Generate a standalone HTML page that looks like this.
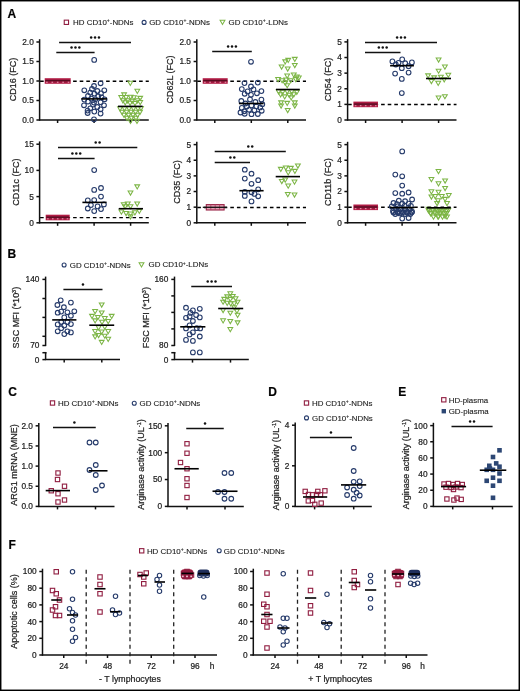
<!DOCTYPE html>
<html><head><meta charset="utf-8"><style>
html,body{margin:0;padding:0;background:#fff;}
svg{display:block;font-family:"Liberation Sans",sans-serif;}
text{stroke:#222;stroke-width:0.22px;}
text.leg{stroke-width:0.12px;}
svg{will-change:transform;}
</style></head><body>
<svg width="520" height="691" viewBox="0 0 520 691">
<rect width="520" height="691" fill="#fff"/>
<rect x="0.7" y="0.7" width="518.6" height="689.6" fill="none" stroke="#000" stroke-width="1.5"/>
<text x="7.6" y="17.5" font-size="12" text-anchor="start" font-weight="700" fill="#000">A</text>
<text x="7.6" y="257.5" font-size="12" text-anchor="start" font-weight="700" fill="#000">B</text>
<text x="8.3" y="395.5" font-size="12" text-anchor="start" font-weight="700" fill="#000">C</text>
<text x="268.3" y="395.5" font-size="12" text-anchor="start" font-weight="700" fill="#000">D</text>
<text x="398.3" y="395.5" font-size="12" text-anchor="start" font-weight="700" fill="#000">E</text>
<text x="8.5" y="549" font-size="12" text-anchor="start" font-weight="700" fill="#000">F</text>
<rect x="64.25" y="20.15" width="4.3" height="4.3" fill="none" stroke="#901d40" stroke-width="1.1"/>
<text x="73.1" y="25.1" font-size="7.9" text-anchor="start" font-weight="400" fill="#222" class="leg">HD CD10<tspan font-size="5" dy="-2.8">+</tspan><tspan dy="2.8">-</tspan>NDNs</text>
<circle cx="144.1" cy="22.4" r="2.0" fill="none" stroke="#263b6b" stroke-width="1.1"/>
<text x="149.2" y="25.2" font-size="7.9" text-anchor="start" font-weight="400" fill="#222" class="leg">GD CD10<tspan font-size="5" dy="-2.8">+</tspan><tspan dy="2.8">-</tspan>NDNs</text>
<polygon points="220.1,20.27 224.9,20.27 222.5,24.4" fill="none" stroke="#7cb545" stroke-width="1.05" stroke-linejoin="miter"/>
<text x="228.5" y="24.8" font-size="7.9" text-anchor="start" font-weight="400" fill="#222" class="leg">GD CD10<tspan font-size="5" dy="-2.8">+</tspan><tspan dy="2.8">-</tspan>LDNs</text>
<circle cx="64.1" cy="265" r="2.0" fill="none" stroke="#263b6b" stroke-width="1.1"/>
<text x="69.8" y="267.8" font-size="7.9" text-anchor="start" font-weight="400" fill="#222" class="leg">GD CD10<tspan font-size="5" dy="-2.8">+</tspan><tspan dy="2.8">-</tspan>NDNs</text>
<polygon points="139.1,262.77 143.9,262.77 141.5,266.9" fill="none" stroke="#7cb545" stroke-width="1.05" stroke-linejoin="miter"/>
<text x="148.6" y="267.3" font-size="7.9" text-anchor="start" font-weight="400" fill="#222" class="leg">GD CD10<tspan font-size="5" dy="-2.8">+</tspan><tspan dy="2.8">-</tspan>LDNs</text>
<rect x="50.35" y="400.85" width="4.3" height="4.3" fill="none" stroke="#901d40" stroke-width="1.1"/>
<text x="58" y="405.8" font-size="7.9" text-anchor="start" font-weight="400" fill="#222" class="leg">HD CD10<tspan font-size="5" dy="-2.8">+</tspan><tspan dy="2.8">-</tspan>NDNs</text>
<circle cx="134.25" cy="403.2" r="2.0" fill="none" stroke="#263b6b" stroke-width="1.1"/>
<text x="139.5" y="406" font-size="7.9" text-anchor="start" font-weight="400" fill="#222" class="leg">GD CD10<tspan font-size="5" dy="-2.8">+</tspan><tspan dy="2.8">-</tspan>NDNs</text>
<rect x="304.35" y="400.85" width="4.3" height="4.3" fill="none" stroke="#901d40" stroke-width="1.1"/>
<text x="312" y="405.8" font-size="7.9" text-anchor="start" font-weight="400" fill="#222" class="leg">HD CD10<tspan font-size="5" dy="-2.8">+</tspan><tspan dy="2.8">-</tspan>NDNs</text>
<circle cx="306.5" cy="417.9" r="2.0" fill="none" stroke="#263b6b" stroke-width="1.1"/>
<text x="312" y="420.7" font-size="7.9" text-anchor="start" font-weight="400" fill="#222" class="leg">GD CD10<tspan font-size="5" dy="-2.8">+</tspan><tspan dy="2.8">-</tspan>NDNs</text>
<rect x="441.65" y="397.65" width="4.3" height="4.3" fill="none" stroke="#901d40" stroke-width="1.1"/>
<text x="448.7" y="402.6" font-size="7.9" text-anchor="start" font-weight="400" fill="#222" class="leg">HD-plasma</text>
<rect x="441.6" y="409" width="4.4" height="4.4" fill="#2d4774"/>
<text x="448.7" y="414" font-size="7.9" text-anchor="start" font-weight="400" fill="#222" class="leg">GD-plasma</text>
<rect x="139.55" y="548.65" width="4.3" height="4.3" fill="none" stroke="#901d40" stroke-width="1.1"/>
<text x="146.9" y="553.6" font-size="7.9" text-anchor="start" font-weight="400" fill="#222" class="leg">HD CD10<tspan font-size="5" dy="-2.8">+</tspan><tspan dy="2.8">-</tspan>NDNs</text>
<circle cx="219.2" cy="550.8" r="2.0" fill="none" stroke="#263b6b" stroke-width="1.1"/>
<text x="223.8" y="553.6" font-size="7.9" text-anchor="start" font-weight="400" fill="#222" class="leg">GD CD10<tspan font-size="5" dy="-2.8">+</tspan><tspan dy="2.8">-</tspan>NDNs</text>
<line x1="39.6" y1="39.2" x2="39.6" y2="120.6" stroke="#111" stroke-width="1.5"/>
<line x1="36.4" y1="120" x2="39.6" y2="120" stroke="#111" stroke-width="1.5"/>
<text x="33.8" y="122.9" font-size="8.3" text-anchor="end" font-weight="400" fill="#222">0.0</text>
<line x1="36.4" y1="100.5" x2="39.6" y2="100.5" stroke="#111" stroke-width="1.5"/>
<text x="33.8" y="103.4" font-size="8.3" text-anchor="end" font-weight="400" fill="#222">0.5</text>
<line x1="36.4" y1="81" x2="39.6" y2="81" stroke="#111" stroke-width="1.5"/>
<text x="33.8" y="83.9" font-size="8.3" text-anchor="end" font-weight="400" fill="#222">1.0</text>
<line x1="36.4" y1="61.5" x2="39.6" y2="61.5" stroke="#111" stroke-width="1.5"/>
<text x="33.8" y="64.4" font-size="8.3" text-anchor="end" font-weight="400" fill="#222">1.5</text>
<line x1="36.4" y1="42" x2="39.6" y2="42" stroke="#111" stroke-width="1.5"/>
<text x="33.8" y="44.9" font-size="8.3" text-anchor="end" font-weight="400" fill="#222">2.0</text>
<line x1="39" y1="120" x2="148.8" y2="120" stroke="#111" stroke-width="1.5"/>
<line x1="57.6" y1="120" x2="57.6" y2="123" stroke="#111" stroke-width="1.5"/>
<line x1="94.1" y1="120" x2="94.1" y2="123" stroke="#111" stroke-width="1.5"/>
<line x1="130.6" y1="120" x2="130.6" y2="123" stroke="#111" stroke-width="1.5"/>
<text x="16.1" y="79.5" font-size="9" text-anchor="middle" font-weight="400" fill="#222" transform="rotate(-90 16.1 79.5)">CD16 (FC)</text>
<line x1="196.8" y1="39.2" x2="196.8" y2="120.6" stroke="#111" stroke-width="1.5"/>
<line x1="193.6" y1="120" x2="196.8" y2="120" stroke="#111" stroke-width="1.5"/>
<text x="191" y="122.9" font-size="8.3" text-anchor="end" font-weight="400" fill="#222">0.0</text>
<line x1="193.6" y1="100.5" x2="196.8" y2="100.5" stroke="#111" stroke-width="1.5"/>
<text x="191" y="103.4" font-size="8.3" text-anchor="end" font-weight="400" fill="#222">0.5</text>
<line x1="193.6" y1="81" x2="196.8" y2="81" stroke="#111" stroke-width="1.5"/>
<text x="191" y="83.9" font-size="8.3" text-anchor="end" font-weight="400" fill="#222">1.0</text>
<line x1="193.6" y1="61.5" x2="196.8" y2="61.5" stroke="#111" stroke-width="1.5"/>
<text x="191" y="64.4" font-size="8.3" text-anchor="end" font-weight="400" fill="#222">1.5</text>
<line x1="193.6" y1="42" x2="196.8" y2="42" stroke="#111" stroke-width="1.5"/>
<text x="191" y="44.9" font-size="8.3" text-anchor="end" font-weight="400" fill="#222">2.0</text>
<line x1="196.2" y1="120" x2="306" y2="120" stroke="#111" stroke-width="1.5"/>
<line x1="214.8" y1="120" x2="214.8" y2="123" stroke="#111" stroke-width="1.5"/>
<line x1="251.3" y1="120" x2="251.3" y2="123" stroke="#111" stroke-width="1.5"/>
<line x1="287.8" y1="120" x2="287.8" y2="123" stroke="#111" stroke-width="1.5"/>
<text x="172.9" y="79.5" font-size="9" text-anchor="middle" font-weight="400" fill="#222" transform="rotate(-90 172.9 79.5)">CD62L (FC)</text>
<line x1="347.6" y1="39.1" x2="347.6" y2="120.6" stroke="#111" stroke-width="1.5"/>
<line x1="344.4" y1="120" x2="347.6" y2="120" stroke="#111" stroke-width="1.5"/>
<text x="341.8" y="122.9" font-size="8.3" text-anchor="end" font-weight="400" fill="#222">0</text>
<line x1="344.4" y1="104.38" x2="347.6" y2="104.38" stroke="#111" stroke-width="1.5"/>
<text x="341.8" y="107.28" font-size="8.3" text-anchor="end" font-weight="400" fill="#222">1</text>
<line x1="344.4" y1="88.76" x2="347.6" y2="88.76" stroke="#111" stroke-width="1.5"/>
<text x="341.8" y="91.66" font-size="8.3" text-anchor="end" font-weight="400" fill="#222">2</text>
<line x1="344.4" y1="73.14" x2="347.6" y2="73.14" stroke="#111" stroke-width="1.5"/>
<text x="341.8" y="76.04" font-size="8.3" text-anchor="end" font-weight="400" fill="#222">3</text>
<line x1="344.4" y1="57.52" x2="347.6" y2="57.52" stroke="#111" stroke-width="1.5"/>
<text x="341.8" y="60.42" font-size="8.3" text-anchor="end" font-weight="400" fill="#222">4</text>
<line x1="344.4" y1="41.9" x2="347.6" y2="41.9" stroke="#111" stroke-width="1.5"/>
<text x="341.8" y="44.8" font-size="8.3" text-anchor="end" font-weight="400" fill="#222">5</text>
<line x1="347" y1="120" x2="456.5" y2="120" stroke="#111" stroke-width="1.5"/>
<line x1="365.6" y1="120" x2="365.6" y2="123" stroke="#111" stroke-width="1.5"/>
<line x1="402.1" y1="120" x2="402.1" y2="123" stroke="#111" stroke-width="1.5"/>
<line x1="438.6" y1="120" x2="438.6" y2="123" stroke="#111" stroke-width="1.5"/>
<text x="330.7" y="79.5" font-size="9" text-anchor="middle" font-weight="400" fill="#222" transform="rotate(-90 330.7 79.5)">CD54 (FC)</text>
<line x1="39.6" y1="141.4" x2="39.6" y2="223.4" stroke="#111" stroke-width="1.5"/>
<line x1="36.4" y1="222.8" x2="39.6" y2="222.8" stroke="#111" stroke-width="1.5"/>
<text x="33.8" y="225.7" font-size="8.3" text-anchor="end" font-weight="400" fill="#222">0</text>
<line x1="36.4" y1="196.6" x2="39.6" y2="196.6" stroke="#111" stroke-width="1.5"/>
<text x="33.8" y="199.5" font-size="8.3" text-anchor="end" font-weight="400" fill="#222">5</text>
<line x1="36.4" y1="170.4" x2="39.6" y2="170.4" stroke="#111" stroke-width="1.5"/>
<text x="33.8" y="173.3" font-size="8.3" text-anchor="end" font-weight="400" fill="#222">10</text>
<line x1="36.4" y1="144.2" x2="39.6" y2="144.2" stroke="#111" stroke-width="1.5"/>
<text x="33.8" y="147.1" font-size="8.3" text-anchor="end" font-weight="400" fill="#222">15</text>
<line x1="39" y1="222.8" x2="148.8" y2="222.8" stroke="#111" stroke-width="1.5"/>
<line x1="57.6" y1="222.8" x2="57.6" y2="225.8" stroke="#111" stroke-width="1.5"/>
<line x1="94.1" y1="222.8" x2="94.1" y2="225.8" stroke="#111" stroke-width="1.5"/>
<line x1="130.6" y1="222.8" x2="130.6" y2="225.8" stroke="#111" stroke-width="1.5"/>
<text x="18.7" y="182.2" font-size="9" text-anchor="middle" font-weight="400" fill="#222" transform="rotate(-90 18.7 182.2)">CD11c (FC)</text>
<line x1="196.8" y1="141.8" x2="196.8" y2="223.4" stroke="#111" stroke-width="1.5"/>
<line x1="193.6" y1="222.8" x2="196.8" y2="222.8" stroke="#111" stroke-width="1.5"/>
<text x="191" y="225.7" font-size="8.3" text-anchor="end" font-weight="400" fill="#222">0</text>
<line x1="193.6" y1="207.16" x2="196.8" y2="207.16" stroke="#111" stroke-width="1.5"/>
<text x="191" y="210.06" font-size="8.3" text-anchor="end" font-weight="400" fill="#222">1</text>
<line x1="193.6" y1="191.52" x2="196.8" y2="191.52" stroke="#111" stroke-width="1.5"/>
<text x="191" y="194.42" font-size="8.3" text-anchor="end" font-weight="400" fill="#222">2</text>
<line x1="193.6" y1="175.88" x2="196.8" y2="175.88" stroke="#111" stroke-width="1.5"/>
<text x="191" y="178.78" font-size="8.3" text-anchor="end" font-weight="400" fill="#222">3</text>
<line x1="193.6" y1="160.24" x2="196.8" y2="160.24" stroke="#111" stroke-width="1.5"/>
<text x="191" y="163.14" font-size="8.3" text-anchor="end" font-weight="400" fill="#222">4</text>
<line x1="193.6" y1="144.6" x2="196.8" y2="144.6" stroke="#111" stroke-width="1.5"/>
<text x="191" y="147.5" font-size="8.3" text-anchor="end" font-weight="400" fill="#222">5</text>
<line x1="196.2" y1="222.8" x2="306" y2="222.8" stroke="#111" stroke-width="1.5"/>
<line x1="214.8" y1="222.8" x2="214.8" y2="225.8" stroke="#111" stroke-width="1.5"/>
<line x1="251.3" y1="222.8" x2="251.3" y2="225.8" stroke="#111" stroke-width="1.5"/>
<line x1="287.8" y1="222.8" x2="287.8" y2="225.8" stroke="#111" stroke-width="1.5"/>
<text x="180" y="182.1" font-size="9" text-anchor="middle" font-weight="400" fill="#222" transform="rotate(-90 180 182.1)">CD35 (FC)</text>
<line x1="347.6" y1="141.8" x2="347.6" y2="223.4" stroke="#111" stroke-width="1.5"/>
<line x1="344.4" y1="222.8" x2="347.6" y2="222.8" stroke="#111" stroke-width="1.5"/>
<text x="341.8" y="225.7" font-size="8.3" text-anchor="end" font-weight="400" fill="#222">0</text>
<line x1="344.4" y1="207.16" x2="347.6" y2="207.16" stroke="#111" stroke-width="1.5"/>
<text x="341.8" y="210.06" font-size="8.3" text-anchor="end" font-weight="400" fill="#222">1</text>
<line x1="344.4" y1="191.52" x2="347.6" y2="191.52" stroke="#111" stroke-width="1.5"/>
<text x="341.8" y="194.42" font-size="8.3" text-anchor="end" font-weight="400" fill="#222">2</text>
<line x1="344.4" y1="175.88" x2="347.6" y2="175.88" stroke="#111" stroke-width="1.5"/>
<text x="341.8" y="178.78" font-size="8.3" text-anchor="end" font-weight="400" fill="#222">3</text>
<line x1="344.4" y1="160.24" x2="347.6" y2="160.24" stroke="#111" stroke-width="1.5"/>
<text x="341.8" y="163.14" font-size="8.3" text-anchor="end" font-weight="400" fill="#222">4</text>
<line x1="344.4" y1="144.6" x2="347.6" y2="144.6" stroke="#111" stroke-width="1.5"/>
<text x="341.8" y="147.5" font-size="8.3" text-anchor="end" font-weight="400" fill="#222">5</text>
<line x1="347" y1="222.8" x2="456.5" y2="222.8" stroke="#111" stroke-width="1.5"/>
<line x1="365.6" y1="222.8" x2="365.6" y2="225.8" stroke="#111" stroke-width="1.5"/>
<line x1="402.1" y1="222.8" x2="402.1" y2="225.8" stroke="#111" stroke-width="1.5"/>
<line x1="438.6" y1="222.8" x2="438.6" y2="225.8" stroke="#111" stroke-width="1.5"/>
<text x="330.7" y="182.1" font-size="9" text-anchor="middle" font-weight="400" fill="#222" transform="rotate(-90 330.7 182.1)">CD11b (FC)</text>
<line x1="40.1" y1="81.2" x2="148.8" y2="81.2" stroke="#000" stroke-width="1.45" stroke-dasharray="3.6 3.0"/>
<rect x="44.7" y="78.2" width="26" height="5.6" fill="#b41e47"/>
<rect x="45.7" y="79.4" width="24" height="3.2" fill="#9a1a3e"/>
<line x1="45.2" y1="80.7" x2="70.2" y2="80.7" stroke="#4a0a1c" stroke-width="1.1"/>
<rect x="46.1" y="81.7" width="1.6" height="1.2" fill="#e08aa2"/>
<rect x="51.5" y="81.7" width="1.6" height="1.2" fill="#e08aa2"/>
<rect x="56.9" y="81.7" width="1.6" height="1.2" fill="#e08aa2"/>
<rect x="62.3" y="81.7" width="1.6" height="1.2" fill="#e08aa2"/>
<rect x="67.7" y="81.7" width="1.6" height="1.2" fill="#e08aa2"/>
<circle cx="100.6" cy="83.3" r="2.35" fill="none" stroke="#263b6b" stroke-width="1.1"/>
<circle cx="94" cy="86" r="2.35" fill="none" stroke="#263b6b" stroke-width="1.1"/>
<circle cx="84.3" cy="90.3" r="2.35" fill="none" stroke="#263b6b" stroke-width="1.1"/>
<circle cx="104.3" cy="90.3" r="2.35" fill="none" stroke="#263b6b" stroke-width="1.1"/>
<circle cx="92" cy="89" r="2.35" fill="none" stroke="#263b6b" stroke-width="1.1"/>
<circle cx="97.3" cy="91" r="2.35" fill="none" stroke="#263b6b" stroke-width="1.1"/>
<circle cx="90.3" cy="92.6" r="2.35" fill="none" stroke="#263b6b" stroke-width="1.1"/>
<circle cx="94.3" cy="93.6" r="2.35" fill="none" stroke="#263b6b" stroke-width="1.1"/>
<circle cx="101" cy="93.3" r="2.35" fill="none" stroke="#263b6b" stroke-width="1.1"/>
<circle cx="88" cy="96" r="2.35" fill="none" stroke="#263b6b" stroke-width="1.1"/>
<circle cx="98.3" cy="96.3" r="2.35" fill="none" stroke="#263b6b" stroke-width="1.1"/>
<circle cx="101.6" cy="97.3" r="2.35" fill="none" stroke="#263b6b" stroke-width="1.1"/>
<circle cx="84.3" cy="99.6" r="2.35" fill="none" stroke="#263b6b" stroke-width="1.1"/>
<circle cx="91.3" cy="98.6" r="2.35" fill="none" stroke="#263b6b" stroke-width="1.1"/>
<circle cx="95.3" cy="99.3" r="2.35" fill="none" stroke="#263b6b" stroke-width="1.1"/>
<circle cx="104.6" cy="99.3" r="2.35" fill="none" stroke="#263b6b" stroke-width="1.1"/>
<circle cx="88" cy="101.6" r="2.35" fill="none" stroke="#263b6b" stroke-width="1.1"/>
<circle cx="94" cy="102.6" r="2.35" fill="none" stroke="#263b6b" stroke-width="1.1"/>
<circle cx="100.6" cy="102.3" r="2.35" fill="none" stroke="#263b6b" stroke-width="1.1"/>
<circle cx="84" cy="105.3" r="2.35" fill="none" stroke="#263b6b" stroke-width="1.1"/>
<circle cx="93" cy="104.6" r="2.35" fill="none" stroke="#263b6b" stroke-width="1.1"/>
<circle cx="104" cy="105.3" r="2.35" fill="none" stroke="#263b6b" stroke-width="1.1"/>
<circle cx="90.3" cy="108.3" r="2.35" fill="none" stroke="#263b6b" stroke-width="1.1"/>
<circle cx="97.3" cy="107" r="2.35" fill="none" stroke="#263b6b" stroke-width="1.1"/>
<circle cx="100.6" cy="109.3" r="2.35" fill="none" stroke="#263b6b" stroke-width="1.1"/>
<circle cx="87.6" cy="110.6" r="2.35" fill="none" stroke="#263b6b" stroke-width="1.1"/>
<circle cx="94.3" cy="111.6" r="2.35" fill="none" stroke="#263b6b" stroke-width="1.1"/>
<circle cx="87.6" cy="113" r="2.35" fill="none" stroke="#263b6b" stroke-width="1.1"/>
<circle cx="100.6" cy="113.6" r="2.35" fill="none" stroke="#263b6b" stroke-width="1.1"/>
<circle cx="94" cy="119.3" r="2.35" fill="none" stroke="#263b6b" stroke-width="1.1"/>
<circle cx="94.2" cy="59.9" r="2.35" fill="none" stroke="#263b6b" stroke-width="1.1"/>
<polygon points="121.7,92.87 126.5,92.87 124.1,97" fill="none" stroke="#7cb545" stroke-width="1.05" stroke-linejoin="miter"/>
<polygon points="118.8,95.57 123.6,95.57 121.2,99.7" fill="none" stroke="#7cb545" stroke-width="1.05" stroke-linejoin="miter"/>
<polygon points="123.7,95.57 128.5,95.57 126.1,99.7" fill="none" stroke="#7cb545" stroke-width="1.05" stroke-linejoin="miter"/>
<polygon points="128.3,95.17 133.1,95.17 130.7,99.3" fill="none" stroke="#7cb545" stroke-width="1.05" stroke-linejoin="miter"/>
<polygon points="131.5,95.77 136.3,95.77 133.9,99.9" fill="none" stroke="#7cb545" stroke-width="1.05" stroke-linejoin="miter"/>
<polygon points="137.8,96.37 142.6,96.37 140.2,100.5" fill="none" stroke="#7cb545" stroke-width="1.05" stroke-linejoin="miter"/>
<polygon points="120.5,98.77 125.3,98.77 122.9,102.9" fill="none" stroke="#7cb545" stroke-width="1.05" stroke-linejoin="miter"/>
<polygon points="125.1,98.77 129.9,98.77 127.5,102.9" fill="none" stroke="#7cb545" stroke-width="1.05" stroke-linejoin="miter"/>
<polygon points="129.8,99.27 134.6,99.27 132.2,103.4" fill="none" stroke="#7cb545" stroke-width="1.05" stroke-linejoin="miter"/>
<polygon points="135.2,98.77 140,98.77 137.6,102.9" fill="none" stroke="#7cb545" stroke-width="1.05" stroke-linejoin="miter"/>
<polygon points="122.8,100.77 127.6,100.77 125.2,104.9" fill="none" stroke="#7cb545" stroke-width="1.05" stroke-linejoin="miter"/>
<polygon points="127.7,101.27 132.5,101.27 130.1,105.4" fill="none" stroke="#7cb545" stroke-width="1.05" stroke-linejoin="miter"/>
<polygon points="132.6,101.57 137.4,101.57 135,105.7" fill="none" stroke="#7cb545" stroke-width="1.05" stroke-linejoin="miter"/>
<polygon points="137.8,100.57 142.6,100.57 140.2,104.7" fill="none" stroke="#7cb545" stroke-width="1.05" stroke-linejoin="miter"/>
<polygon points="117.6,106.77 122.4,106.77 120,110.9" fill="none" stroke="#7cb545" stroke-width="1.05" stroke-linejoin="miter"/>
<polygon points="122.1,106.77 126.9,106.77 124.5,110.9" fill="none" stroke="#7cb545" stroke-width="1.05" stroke-linejoin="miter"/>
<polygon points="126.6,106.77 131.4,106.77 129,110.9" fill="none" stroke="#7cb545" stroke-width="1.05" stroke-linejoin="miter"/>
<polygon points="131.1,106.77 135.9,106.77 133.5,110.9" fill="none" stroke="#7cb545" stroke-width="1.05" stroke-linejoin="miter"/>
<polygon points="135.6,106.77 140.4,106.77 138,110.9" fill="none" stroke="#7cb545" stroke-width="1.05" stroke-linejoin="miter"/>
<polygon points="138.6,106.47 143.4,106.47 141,110.6" fill="none" stroke="#7cb545" stroke-width="1.05" stroke-linejoin="miter"/>
<polygon points="119.6,110.27 124.4,110.27 122,114.4" fill="none" stroke="#7cb545" stroke-width="1.05" stroke-linejoin="miter"/>
<polygon points="124.1,110.27 128.9,110.27 126.5,114.4" fill="none" stroke="#7cb545" stroke-width="1.05" stroke-linejoin="miter"/>
<polygon points="128.6,110.27 133.4,110.27 131,114.4" fill="none" stroke="#7cb545" stroke-width="1.05" stroke-linejoin="miter"/>
<polygon points="133.1,110.27 137.9,110.27 135.5,114.4" fill="none" stroke="#7cb545" stroke-width="1.05" stroke-linejoin="miter"/>
<polygon points="137.6,110.27 142.4,110.27 140,114.4" fill="none" stroke="#7cb545" stroke-width="1.05" stroke-linejoin="miter"/>
<polygon points="121.6,113.27 126.4,113.27 124,117.4" fill="none" stroke="#7cb545" stroke-width="1.05" stroke-linejoin="miter"/>
<polygon points="126.1,113.27 130.9,113.27 128.5,117.4" fill="none" stroke="#7cb545" stroke-width="1.05" stroke-linejoin="miter"/>
<polygon points="130.6,113.27 135.4,113.27 133,117.4" fill="none" stroke="#7cb545" stroke-width="1.05" stroke-linejoin="miter"/>
<polygon points="135.1,113.27 139.9,113.27 137.5,117.4" fill="none" stroke="#7cb545" stroke-width="1.05" stroke-linejoin="miter"/>
<polygon points="124.6,116.27 129.4,116.27 127,120.4" fill="none" stroke="#7cb545" stroke-width="1.05" stroke-linejoin="miter"/>
<polygon points="129.1,116.27 133.9,116.27 131.5,120.4" fill="none" stroke="#7cb545" stroke-width="1.05" stroke-linejoin="miter"/>
<polygon points="133.6,116.27 138.4,116.27 136,120.4" fill="none" stroke="#7cb545" stroke-width="1.05" stroke-linejoin="miter"/>
<polygon points="128.1,119.27 132.9,119.27 130.5,123.4" fill="none" stroke="#7cb545" stroke-width="1.05" stroke-linejoin="miter"/>
<polygon points="134.6,119.27 139.4,119.27 137,123.4" fill="none" stroke="#7cb545" stroke-width="1.05" stroke-linejoin="miter"/>
<polygon points="127.9,81.27 132.7,81.27 130.3,85.4" fill="none" stroke="#7cb545" stroke-width="1.05" stroke-linejoin="miter"/>
<polygon points="134.9,89.27 139.7,89.27 137.3,93.4" fill="none" stroke="#7cb545" stroke-width="1.05" stroke-linejoin="miter"/>
<line x1="81.3" y1="98.9" x2="107" y2="98.9" stroke="#000" stroke-width="1.6"/>
<line x1="118" y1="106.4" x2="142.6" y2="106.4" stroke="#000" stroke-width="1.6"/>
<line x1="59.1" y1="42.5" x2="131" y2="42.5" stroke="#111" stroke-width="1.35"/>
<circle cx="91.15" cy="37.5" r="1.25" fill="#111"/>
<circle cx="95.05" cy="37.5" r="1.25" fill="#111"/>
<circle cx="98.95" cy="37.5" r="1.25" fill="#111"/>
<line x1="56.3" y1="52.5" x2="94.6" y2="52.5" stroke="#111" stroke-width="1.35"/>
<circle cx="71.55" cy="47.5" r="1.25" fill="#111"/>
<circle cx="75.45" cy="47.5" r="1.25" fill="#111"/>
<circle cx="79.35" cy="47.5" r="1.25" fill="#111"/>
<line x1="197.3" y1="81.2" x2="306" y2="81.2" stroke="#000" stroke-width="1.45" stroke-dasharray="3.6 3.0"/>
<rect x="202.7" y="78.2" width="25" height="5.6" fill="#b41e47"/>
<rect x="203.7" y="79.4" width="23" height="3.2" fill="#9a1a3e"/>
<line x1="203.2" y1="80.7" x2="227.2" y2="80.7" stroke="#4a0a1c" stroke-width="1.1"/>
<rect x="204.1" y="81.7" width="1.6" height="1.2" fill="#e08aa2"/>
<rect x="209.25" y="81.7" width="1.6" height="1.2" fill="#e08aa2"/>
<rect x="214.4" y="81.7" width="1.6" height="1.2" fill="#e08aa2"/>
<rect x="219.55" y="81.7" width="1.6" height="1.2" fill="#e08aa2"/>
<rect x="224.7" y="81.7" width="1.6" height="1.2" fill="#e08aa2"/>
<circle cx="251" cy="61.8" r="2.35" fill="none" stroke="#263b6b" stroke-width="1.1"/>
<circle cx="244.5" cy="83.1" r="2.35" fill="none" stroke="#263b6b" stroke-width="1.1"/>
<circle cx="257.8" cy="82.6" r="2.35" fill="none" stroke="#263b6b" stroke-width="1.1"/>
<circle cx="241.8" cy="89.1" r="2.35" fill="none" stroke="#263b6b" stroke-width="1.1"/>
<circle cx="251" cy="86.5" r="2.35" fill="none" stroke="#263b6b" stroke-width="1.1"/>
<circle cx="261.4" cy="91.1" r="2.35" fill="none" stroke="#263b6b" stroke-width="1.1"/>
<circle cx="247.6" cy="91.4" r="2.35" fill="none" stroke="#263b6b" stroke-width="1.1"/>
<circle cx="253.5" cy="89.4" r="2.35" fill="none" stroke="#263b6b" stroke-width="1.1"/>
<circle cx="256.9" cy="93.3" r="2.35" fill="none" stroke="#263b6b" stroke-width="1.1"/>
<circle cx="244.7" cy="93.8" r="2.35" fill="none" stroke="#263b6b" stroke-width="1.1"/>
<circle cx="251" cy="94.8" r="2.35" fill="none" stroke="#263b6b" stroke-width="1.1"/>
<circle cx="241.3" cy="101" r="2.35" fill="none" stroke="#263b6b" stroke-width="1.1"/>
<circle cx="250" cy="99.4" r="2.35" fill="none" stroke="#263b6b" stroke-width="1.1"/>
<circle cx="261.4" cy="99.6" r="2.35" fill="none" stroke="#263b6b" stroke-width="1.1"/>
<circle cx="255.4" cy="102" r="2.35" fill="none" stroke="#263b6b" stroke-width="1.1"/>
<circle cx="245.5" cy="103.5" r="2.35" fill="none" stroke="#263b6b" stroke-width="1.1"/>
<circle cx="241.8" cy="107.9" r="2.35" fill="none" stroke="#263b6b" stroke-width="1.1"/>
<circle cx="246.7" cy="106.4" r="2.35" fill="none" stroke="#263b6b" stroke-width="1.1"/>
<circle cx="251.5" cy="105.4" r="2.35" fill="none" stroke="#263b6b" stroke-width="1.1"/>
<circle cx="256.4" cy="106.4" r="2.35" fill="none" stroke="#263b6b" stroke-width="1.1"/>
<circle cx="260.2" cy="107.4" r="2.35" fill="none" stroke="#263b6b" stroke-width="1.1"/>
<circle cx="244.2" cy="111.3" r="2.35" fill="none" stroke="#263b6b" stroke-width="1.1"/>
<circle cx="249.1" cy="109.8" r="2.35" fill="none" stroke="#263b6b" stroke-width="1.1"/>
<circle cx="254.4" cy="110.3" r="2.35" fill="none" stroke="#263b6b" stroke-width="1.1"/>
<circle cx="261.7" cy="110.8" r="2.35" fill="none" stroke="#263b6b" stroke-width="1.1"/>
<circle cx="244.7" cy="113.8" r="2.35" fill="none" stroke="#263b6b" stroke-width="1.1"/>
<circle cx="251.5" cy="114.2" r="2.35" fill="none" stroke="#263b6b" stroke-width="1.1"/>
<circle cx="257.8" cy="114" r="2.35" fill="none" stroke="#263b6b" stroke-width="1.1"/>
<circle cx="240.5" cy="112.5" r="2.35" fill="none" stroke="#263b6b" stroke-width="1.1"/>
<circle cx="262.3" cy="104.2" r="2.35" fill="none" stroke="#263b6b" stroke-width="1.1"/>
<polygon points="292.4,57.37 297.2,57.37 294.8,61.5" fill="none" stroke="#7cb545" stroke-width="1.05" stroke-linejoin="miter"/>
<polygon points="285.8,58.37 290.6,58.37 288.2,62.5" fill="none" stroke="#7cb545" stroke-width="1.05" stroke-linejoin="miter"/>
<polygon points="282.8,59.87 287.6,59.87 285.2,64" fill="none" stroke="#7cb545" stroke-width="1.05" stroke-linejoin="miter"/>
<polygon points="279.2,64.97 284,64.97 281.6,69.1" fill="none" stroke="#7cb545" stroke-width="1.05" stroke-linejoin="miter"/>
<polygon points="292.4,63.47 297.2,63.47 294.8,67.6" fill="none" stroke="#7cb545" stroke-width="1.05" stroke-linejoin="miter"/>
<polygon points="285.3,66.97 290.1,66.97 287.7,71.1" fill="none" stroke="#7cb545" stroke-width="1.05" stroke-linejoin="miter"/>
<polygon points="284.8,74.07 289.6,74.07 287.2,78.2" fill="none" stroke="#7cb545" stroke-width="1.05" stroke-linejoin="miter"/>
<polygon points="291.4,73.07 296.2,73.07 293.8,77.2" fill="none" stroke="#7cb545" stroke-width="1.05" stroke-linejoin="miter"/>
<polygon points="294.4,75.07 299.2,75.07 296.8,79.2" fill="none" stroke="#7cb545" stroke-width="1.05" stroke-linejoin="miter"/>
<polygon points="275.7,77.57 280.5,77.57 278.1,81.7" fill="none" stroke="#7cb545" stroke-width="1.05" stroke-linejoin="miter"/>
<polygon points="279.7,78.67 284.5,78.67 282.1,82.8" fill="none" stroke="#7cb545" stroke-width="1.05" stroke-linejoin="miter"/>
<polygon points="283.8,78.07 288.6,78.07 286.2,82.2" fill="none" stroke="#7cb545" stroke-width="1.05" stroke-linejoin="miter"/>
<polygon points="288.3,78.67 293.1,78.67 290.7,82.8" fill="none" stroke="#7cb545" stroke-width="1.05" stroke-linejoin="miter"/>
<polygon points="293.4,77.57 298.2,77.57 295.8,81.7" fill="none" stroke="#7cb545" stroke-width="1.05" stroke-linejoin="miter"/>
<polygon points="296.4,76.07 301.2,76.07 298.8,80.2" fill="none" stroke="#7cb545" stroke-width="1.05" stroke-linejoin="miter"/>
<polygon points="282.8,81.17 287.6,81.17 285.2,85.3" fill="none" stroke="#7cb545" stroke-width="1.05" stroke-linejoin="miter"/>
<polygon points="284.8,83.67 289.6,83.67 287.2,87.8" fill="none" stroke="#7cb545" stroke-width="1.05" stroke-linejoin="miter"/>
<polygon points="276.2,89.77 281,89.77 278.6,93.9" fill="none" stroke="#7cb545" stroke-width="1.05" stroke-linejoin="miter"/>
<polygon points="280.2,90.27 285,90.27 282.6,94.4" fill="none" stroke="#7cb545" stroke-width="1.05" stroke-linejoin="miter"/>
<polygon points="284.8,89.77 289.6,89.77 287.2,93.9" fill="none" stroke="#7cb545" stroke-width="1.05" stroke-linejoin="miter"/>
<polygon points="289.3,89.77 294.1,89.77 291.7,93.9" fill="none" stroke="#7cb545" stroke-width="1.05" stroke-linejoin="miter"/>
<polygon points="294.4,90.27 299.2,90.27 296.8,94.4" fill="none" stroke="#7cb545" stroke-width="1.05" stroke-linejoin="miter"/>
<polygon points="278.2,92.77 283,92.77 280.6,96.9" fill="none" stroke="#7cb545" stroke-width="1.05" stroke-linejoin="miter"/>
<polygon points="282.3,94.87 287.1,94.87 284.7,99" fill="none" stroke="#7cb545" stroke-width="1.05" stroke-linejoin="miter"/>
<polygon points="286.8,93.27 291.6,93.27 289.2,97.4" fill="none" stroke="#7cb545" stroke-width="1.05" stroke-linejoin="miter"/>
<polygon points="291.4,92.77 296.2,92.77 293.8,96.9" fill="none" stroke="#7cb545" stroke-width="1.05" stroke-linejoin="miter"/>
<polygon points="288.8,95.87 293.6,95.87 291.2,100" fill="none" stroke="#7cb545" stroke-width="1.05" stroke-linejoin="miter"/>
<polygon points="278.7,100.87 283.5,100.87 281.1,105" fill="none" stroke="#7cb545" stroke-width="1.05" stroke-linejoin="miter"/>
<polygon points="284.8,101.37 289.6,101.37 287.2,105.5" fill="none" stroke="#7cb545" stroke-width="1.05" stroke-linejoin="miter"/>
<polygon points="292.4,100.87 297.2,100.87 294.8,105" fill="none" stroke="#7cb545" stroke-width="1.05" stroke-linejoin="miter"/>
<polygon points="278.7,103.97 283.5,103.97 281.1,108.1" fill="none" stroke="#7cb545" stroke-width="1.05" stroke-linejoin="miter"/>
<polygon points="292.4,103.97 297.2,103.97 294.8,108.1" fill="none" stroke="#7cb545" stroke-width="1.05" stroke-linejoin="miter"/>
<polygon points="285.3,108.47 290.1,108.47 287.7,112.6" fill="none" stroke="#7cb545" stroke-width="1.05" stroke-linejoin="miter"/>
<line x1="238.9" y1="103.5" x2="263.6" y2="103.5" stroke="#000" stroke-width="1.6"/>
<line x1="276" y1="89.5" x2="299.8" y2="89.5" stroke="#000" stroke-width="1.6"/>
<line x1="212.2" y1="51.5" x2="251.8" y2="51.5" stroke="#111" stroke-width="1.35"/>
<circle cx="228.1" cy="46.5" r="1.25" fill="#111"/>
<circle cx="232" cy="46.5" r="1.25" fill="#111"/>
<circle cx="235.9" cy="46.5" r="1.25" fill="#111"/>
<line x1="348.1" y1="104.5" x2="456.5" y2="104.5" stroke="#000" stroke-width="1.45" stroke-dasharray="3.6 3.0"/>
<rect x="353.4" y="101.6" width="24.6" height="5.6" fill="#b41e47"/>
<rect x="354.4" y="102.8" width="22.6" height="3.2" fill="#9a1a3e"/>
<line x1="353.9" y1="104.1" x2="377.5" y2="104.1" stroke="#4a0a1c" stroke-width="1.1"/>
<rect x="354.8" y="105.1" width="1.6" height="1.2" fill="#e08aa2"/>
<rect x="359.85" y="105.1" width="1.6" height="1.2" fill="#e08aa2"/>
<rect x="364.9" y="105.1" width="1.6" height="1.2" fill="#e08aa2"/>
<rect x="369.95" y="105.1" width="1.6" height="1.2" fill="#e08aa2"/>
<rect x="375" y="105.1" width="1.6" height="1.2" fill="#e08aa2"/>
<circle cx="392.4" cy="61.4" r="2.35" fill="none" stroke="#263b6b" stroke-width="1.1"/>
<circle cx="402.2" cy="59.4" r="2.35" fill="none" stroke="#263b6b" stroke-width="1.1"/>
<circle cx="398.5" cy="62.8" r="2.35" fill="none" stroke="#263b6b" stroke-width="1.1"/>
<circle cx="405.2" cy="63.2" r="2.35" fill="none" stroke="#263b6b" stroke-width="1.1"/>
<circle cx="411.9" cy="62.4" r="2.35" fill="none" stroke="#263b6b" stroke-width="1.1"/>
<circle cx="395.8" cy="64.5" r="2.35" fill="none" stroke="#263b6b" stroke-width="1.1"/>
<circle cx="401.8" cy="68.2" r="2.35" fill="none" stroke="#263b6b" stroke-width="1.1"/>
<circle cx="408.6" cy="66.2" r="2.35" fill="none" stroke="#263b6b" stroke-width="1.1"/>
<circle cx="395.1" cy="73.6" r="2.35" fill="none" stroke="#263b6b" stroke-width="1.1"/>
<circle cx="408.6" cy="72.6" r="2.35" fill="none" stroke="#263b6b" stroke-width="1.1"/>
<circle cx="401.8" cy="78.9" r="2.35" fill="none" stroke="#263b6b" stroke-width="1.1"/>
<circle cx="401.8" cy="93.1" r="2.35" fill="none" stroke="#263b6b" stroke-width="1.1"/>
<polygon points="436.2,57.97 441,57.97 438.6,62.1" fill="none" stroke="#7cb545" stroke-width="1.05" stroke-linejoin="miter"/>
<polygon points="442.5,65.07 447.3,65.07 444.9,69.2" fill="none" stroke="#7cb545" stroke-width="1.05" stroke-linejoin="miter"/>
<polygon points="436.2,69.17 441,69.17 438.6,73.3" fill="none" stroke="#7cb545" stroke-width="1.05" stroke-linejoin="miter"/>
<polygon points="425.7,73.87 430.5,73.87 428.1,78" fill="none" stroke="#7cb545" stroke-width="1.05" stroke-linejoin="miter"/>
<polygon points="431.7,75.87 436.5,75.87 434.1,80" fill="none" stroke="#7cb545" stroke-width="1.05" stroke-linejoin="miter"/>
<polygon points="438.5,75.17 443.3,75.17 440.9,79.3" fill="none" stroke="#7cb545" stroke-width="1.05" stroke-linejoin="miter"/>
<polygon points="445.9,73.17 450.7,73.17 448.3,77.3" fill="none" stroke="#7cb545" stroke-width="1.05" stroke-linejoin="miter"/>
<polygon points="429,79.47 433.8,79.47 431.4,83.6" fill="none" stroke="#7cb545" stroke-width="1.05" stroke-linejoin="miter"/>
<polygon points="435.8,81.27 440.6,81.27 438.2,85.4" fill="none" stroke="#7cb545" stroke-width="1.05" stroke-linejoin="miter"/>
<polygon points="441.8,77.87 446.6,77.87 444.2,82" fill="none" stroke="#7cb545" stroke-width="1.05" stroke-linejoin="miter"/>
<polygon points="436.2,96.07 441,96.07 438.6,100.2" fill="none" stroke="#7cb545" stroke-width="1.05" stroke-linejoin="miter"/>
<polygon points="442.5,94.67 447.3,94.67 444.9,98.8" fill="none" stroke="#7cb545" stroke-width="1.05" stroke-linejoin="miter"/>
<line x1="390.1" y1="65.7" x2="413.9" y2="65.7" stroke="#000" stroke-width="1.6"/>
<line x1="426" y1="78.5" x2="451" y2="78.5" stroke="#000" stroke-width="1.6"/>
<line x1="365" y1="42.5" x2="437" y2="42.5" stroke="#111" stroke-width="1.35"/>
<circle cx="397.1" cy="37.5" r="1.25" fill="#111"/>
<circle cx="401" cy="37.5" r="1.25" fill="#111"/>
<circle cx="404.9" cy="37.5" r="1.25" fill="#111"/>
<line x1="365" y1="52.5" x2="400.5" y2="52.5" stroke="#111" stroke-width="1.35"/>
<circle cx="378.85" cy="47.5" r="1.25" fill="#111"/>
<circle cx="382.75" cy="47.5" r="1.25" fill="#111"/>
<circle cx="386.65" cy="47.5" r="1.25" fill="#111"/>
<line x1="40.1" y1="217.6" x2="148.8" y2="217.6" stroke="#000" stroke-width="1.45" stroke-dasharray="3.6 3.0"/>
<rect x="45.7" y="214.7" width="24" height="5.6" fill="#b41e47"/>
<rect x="46.7" y="215.9" width="22" height="3.2" fill="#9a1a3e"/>
<line x1="46.2" y1="217.2" x2="69.2" y2="217.2" stroke="#4a0a1c" stroke-width="1.1"/>
<rect x="47.1" y="218.2" width="1.6" height="1.2" fill="#e08aa2"/>
<rect x="52" y="218.2" width="1.6" height="1.2" fill="#e08aa2"/>
<rect x="56.9" y="218.2" width="1.6" height="1.2" fill="#e08aa2"/>
<rect x="61.8" y="218.2" width="1.6" height="1.2" fill="#e08aa2"/>
<rect x="66.7" y="218.2" width="1.6" height="1.2" fill="#e08aa2"/>
<circle cx="94.2" cy="170.1" r="2.35" fill="none" stroke="#263b6b" stroke-width="1.1"/>
<circle cx="94.2" cy="189.9" r="2.35" fill="none" stroke="#263b6b" stroke-width="1.1"/>
<circle cx="101" cy="188" r="2.35" fill="none" stroke="#263b6b" stroke-width="1.1"/>
<circle cx="101" cy="196.6" r="2.35" fill="none" stroke="#263b6b" stroke-width="1.1"/>
<circle cx="87.8" cy="200.4" r="2.35" fill="none" stroke="#263b6b" stroke-width="1.1"/>
<circle cx="94.2" cy="200.1" r="2.35" fill="none" stroke="#263b6b" stroke-width="1.1"/>
<circle cx="90.9" cy="205.1" r="2.35" fill="none" stroke="#263b6b" stroke-width="1.1"/>
<circle cx="97.6" cy="206.4" r="2.35" fill="none" stroke="#263b6b" stroke-width="1.1"/>
<circle cx="103.9" cy="204.4" r="2.35" fill="none" stroke="#263b6b" stroke-width="1.1"/>
<circle cx="87.8" cy="208.5" r="2.35" fill="none" stroke="#263b6b" stroke-width="1.1"/>
<circle cx="94.2" cy="211.1" r="2.35" fill="none" stroke="#263b6b" stroke-width="1.1"/>
<circle cx="101" cy="209.1" r="2.35" fill="none" stroke="#263b6b" stroke-width="1.1"/>
<polygon points="134.8,184.87 139.6,184.87 137.2,189" fill="none" stroke="#7cb545" stroke-width="1.05" stroke-linejoin="miter"/>
<polygon points="128.1,190.97 132.9,190.97 130.5,195.1" fill="none" stroke="#7cb545" stroke-width="1.05" stroke-linejoin="miter"/>
<polygon points="121.3,202.67 126.1,202.67 123.7,206.8" fill="none" stroke="#7cb545" stroke-width="1.05" stroke-linejoin="miter"/>
<polygon points="125.4,201.97 130.2,201.97 127.8,206.1" fill="none" stroke="#7cb545" stroke-width="1.05" stroke-linejoin="miter"/>
<polygon points="134.8,201.97 139.6,201.97 137.2,206.1" fill="none" stroke="#7cb545" stroke-width="1.05" stroke-linejoin="miter"/>
<polygon points="122.7,204.67 127.5,204.67 125.1,208.8" fill="none" stroke="#7cb545" stroke-width="1.05" stroke-linejoin="miter"/>
<polygon points="128.1,204.67 132.9,204.67 130.5,208.8" fill="none" stroke="#7cb545" stroke-width="1.05" stroke-linejoin="miter"/>
<polygon points="119,210.07 123.8,210.07 121.4,214.2" fill="none" stroke="#7cb545" stroke-width="1.05" stroke-linejoin="miter"/>
<polygon points="123.7,211.47 128.5,211.47 126.1,215.6" fill="none" stroke="#7cb545" stroke-width="1.05" stroke-linejoin="miter"/>
<polygon points="128.1,212.07 132.9,212.07 130.5,216.2" fill="none" stroke="#7cb545" stroke-width="1.05" stroke-linejoin="miter"/>
<polygon points="132.5,210.77 137.3,210.77 134.9,214.9" fill="none" stroke="#7cb545" stroke-width="1.05" stroke-linejoin="miter"/>
<polygon points="136.9,209.37 141.7,209.37 139.3,213.5" fill="none" stroke="#7cb545" stroke-width="1.05" stroke-linejoin="miter"/>
<polygon points="128.1,214.77 132.9,214.77 130.5,218.9" fill="none" stroke="#7cb545" stroke-width="1.05" stroke-linejoin="miter"/>
<line x1="82.4" y1="202.4" x2="106.6" y2="202.4" stroke="#000" stroke-width="1.6"/>
<line x1="118.7" y1="208.7" x2="143" y2="208.7" stroke="#000" stroke-width="1.6"/>
<line x1="58" y1="147.5" x2="137.3" y2="147.5" stroke="#111" stroke-width="1.35"/>
<circle cx="95.7" cy="142.5" r="1.25" fill="#111"/>
<circle cx="99.6" cy="142.5" r="1.25" fill="#111"/>
<line x1="58" y1="158.5" x2="94.6" y2="158.5" stroke="#111" stroke-width="1.35"/>
<circle cx="72.4" cy="153.5" r="1.25" fill="#111"/>
<circle cx="76.3" cy="153.5" r="1.25" fill="#111"/>
<circle cx="80.2" cy="153.5" r="1.25" fill="#111"/>
<line x1="197.3" y1="207.4" x2="306" y2="207.4" stroke="#000" stroke-width="1.45" stroke-dasharray="3.6 3.0"/>
<rect x="206.3" y="204.6" width="17.8" height="5.4" fill="#e4a2b6" stroke="#9a2548" stroke-width="1.1"/>
<line x1="210.8" y1="204.6" x2="210.8" y2="210" stroke="#b04a68" stroke-width="0.9"/>
<line x1="215.2" y1="204.6" x2="215.2" y2="210" stroke="#b04a68" stroke-width="0.9"/>
<line x1="219.6" y1="204.6" x2="219.6" y2="210" stroke="#b04a68" stroke-width="0.9"/>
<line x1="202.8" y1="207.3" x2="227" y2="207.3" stroke="#111" stroke-width="1.3"/>
<circle cx="244.8" cy="169.7" r="2.35" fill="none" stroke="#263b6b" stroke-width="1.1"/>
<circle cx="251.5" cy="173.7" r="2.35" fill="none" stroke="#263b6b" stroke-width="1.1"/>
<circle cx="244.8" cy="178.6" r="2.35" fill="none" stroke="#263b6b" stroke-width="1.1"/>
<circle cx="258.2" cy="180.2" r="2.35" fill="none" stroke="#263b6b" stroke-width="1.1"/>
<circle cx="251.5" cy="183.8" r="2.35" fill="none" stroke="#263b6b" stroke-width="1.1"/>
<circle cx="258.2" cy="189.3" r="2.35" fill="none" stroke="#263b6b" stroke-width="1.1"/>
<circle cx="244.8" cy="191.9" r="2.35" fill="none" stroke="#263b6b" stroke-width="1.1"/>
<circle cx="251.5" cy="192.3" r="2.35" fill="none" stroke="#263b6b" stroke-width="1.1"/>
<circle cx="254.5" cy="193.9" r="2.35" fill="none" stroke="#263b6b" stroke-width="1.1"/>
<circle cx="244.8" cy="195.9" r="2.35" fill="none" stroke="#263b6b" stroke-width="1.1"/>
<circle cx="258.2" cy="196.3" r="2.35" fill="none" stroke="#263b6b" stroke-width="1.1"/>
<circle cx="251.5" cy="201.4" r="2.35" fill="none" stroke="#263b6b" stroke-width="1.1"/>
<polygon points="295.5,163.97 300.3,163.97 297.9,168.1" fill="none" stroke="#7cb545" stroke-width="1.05" stroke-linejoin="miter"/>
<polygon points="278.4,167.37 283.2,167.37 280.8,171.5" fill="none" stroke="#7cb545" stroke-width="1.05" stroke-linejoin="miter"/>
<polygon points="283.4,165.97 288.2,165.97 285.8,170.1" fill="none" stroke="#7cb545" stroke-width="1.05" stroke-linejoin="miter"/>
<polygon points="288.5,166.37 293.3,166.37 290.9,170.5" fill="none" stroke="#7cb545" stroke-width="1.05" stroke-linejoin="miter"/>
<polygon points="292.5,169.37 297.3,169.37 294.9,173.5" fill="none" stroke="#7cb545" stroke-width="1.05" stroke-linejoin="miter"/>
<polygon points="285.8,170.77 290.6,170.77 288.2,174.9" fill="none" stroke="#7cb545" stroke-width="1.05" stroke-linejoin="miter"/>
<polygon points="279.4,179.47 284.2,179.47 281.8,183.6" fill="none" stroke="#7cb545" stroke-width="1.05" stroke-linejoin="miter"/>
<polygon points="282.8,178.07 287.6,178.07 285.2,182.2" fill="none" stroke="#7cb545" stroke-width="1.05" stroke-linejoin="miter"/>
<polygon points="292.1,180.07 296.9,180.07 294.5,184.2" fill="none" stroke="#7cb545" stroke-width="1.05" stroke-linejoin="miter"/>
<polygon points="285.8,184.07 290.6,184.07 288.2,188.2" fill="none" stroke="#7cb545" stroke-width="1.05" stroke-linejoin="miter"/>
<polygon points="285.4,192.57 290.2,192.57 287.8,196.7" fill="none" stroke="#7cb545" stroke-width="1.05" stroke-linejoin="miter"/>
<polygon points="292.1,192.97 296.9,192.97 294.5,197.1" fill="none" stroke="#7cb545" stroke-width="1.05" stroke-linejoin="miter"/>
<line x1="239.4" y1="190.7" x2="263.6" y2="190.7" stroke="#000" stroke-width="1.6"/>
<line x1="275.7" y1="176.6" x2="300" y2="176.6" stroke="#000" stroke-width="1.6"/>
<line x1="214.7" y1="151.5" x2="285.8" y2="151.5" stroke="#111" stroke-width="1.35"/>
<circle cx="248.3" cy="146.5" r="1.25" fill="#111"/>
<circle cx="252.2" cy="146.5" r="1.25" fill="#111"/>
<line x1="214.7" y1="162.5" x2="250" y2="162.5" stroke="#111" stroke-width="1.35"/>
<circle cx="230.4" cy="157.5" r="1.25" fill="#111"/>
<circle cx="234.3" cy="157.5" r="1.25" fill="#111"/>
<line x1="348.1" y1="207.2" x2="456.5" y2="207.2" stroke="#000" stroke-width="1.45" stroke-dasharray="3.6 3.0"/>
<rect x="353.4" y="204.5" width="24.6" height="5.6" fill="#b41e47"/>
<rect x="354.4" y="205.7" width="22.6" height="3.2" fill="#9a1a3e"/>
<line x1="353.9" y1="207" x2="377.5" y2="207" stroke="#4a0a1c" stroke-width="1.1"/>
<rect x="354.8" y="208" width="1.6" height="1.2" fill="#e08aa2"/>
<rect x="359.85" y="208" width="1.6" height="1.2" fill="#e08aa2"/>
<rect x="364.9" y="208" width="1.6" height="1.2" fill="#e08aa2"/>
<rect x="369.95" y="208" width="1.6" height="1.2" fill="#e08aa2"/>
<rect x="375" y="208" width="1.6" height="1.2" fill="#e08aa2"/>
<circle cx="402.2" cy="151.4" r="2.35" fill="none" stroke="#263b6b" stroke-width="1.1"/>
<circle cx="395.3" cy="174.6" r="2.35" fill="none" stroke="#263b6b" stroke-width="1.1"/>
<circle cx="402.2" cy="176.3" r="2.35" fill="none" stroke="#263b6b" stroke-width="1.1"/>
<circle cx="402.2" cy="185.6" r="2.35" fill="none" stroke="#263b6b" stroke-width="1.1"/>
<circle cx="395.3" cy="193.1" r="2.35" fill="none" stroke="#263b6b" stroke-width="1.1"/>
<circle cx="402.2" cy="193.7" r="2.35" fill="none" stroke="#263b6b" stroke-width="1.1"/>
<circle cx="408.6" cy="192.5" r="2.35" fill="none" stroke="#263b6b" stroke-width="1.1"/>
<circle cx="398.8" cy="200.7" r="2.35" fill="none" stroke="#263b6b" stroke-width="1.1"/>
<circle cx="405.1" cy="201.2" r="2.35" fill="none" stroke="#263b6b" stroke-width="1.1"/>
<circle cx="412.1" cy="199.5" r="2.35" fill="none" stroke="#263b6b" stroke-width="1.1"/>
<circle cx="393.5" cy="203" r="2.35" fill="none" stroke="#263b6b" stroke-width="1.1"/>
<circle cx="397" cy="204.1" r="2.35" fill="none" stroke="#263b6b" stroke-width="1.1"/>
<circle cx="402.2" cy="203.6" r="2.35" fill="none" stroke="#263b6b" stroke-width="1.1"/>
<circle cx="408.6" cy="203.6" r="2.35" fill="none" stroke="#263b6b" stroke-width="1.1"/>
<circle cx="391.8" cy="206.4" r="2.35" fill="none" stroke="#263b6b" stroke-width="1.1"/>
<circle cx="397.6" cy="206.4" r="2.35" fill="none" stroke="#263b6b" stroke-width="1.1"/>
<circle cx="404.6" cy="205.9" r="2.35" fill="none" stroke="#263b6b" stroke-width="1.1"/>
<circle cx="410.9" cy="205.9" r="2.35" fill="none" stroke="#263b6b" stroke-width="1.1"/>
<circle cx="393" cy="211.1" r="2.35" fill="none" stroke="#263b6b" stroke-width="1.1"/>
<circle cx="397.6" cy="211.7" r="2.35" fill="none" stroke="#263b6b" stroke-width="1.1"/>
<circle cx="402.2" cy="211.1" r="2.35" fill="none" stroke="#263b6b" stroke-width="1.1"/>
<circle cx="407.4" cy="211.7" r="2.35" fill="none" stroke="#263b6b" stroke-width="1.1"/>
<circle cx="412.1" cy="211.7" r="2.35" fill="none" stroke="#263b6b" stroke-width="1.1"/>
<circle cx="395.3" cy="214" r="2.35" fill="none" stroke="#263b6b" stroke-width="1.1"/>
<circle cx="399.9" cy="213.4" r="2.35" fill="none" stroke="#263b6b" stroke-width="1.1"/>
<circle cx="405.1" cy="214" r="2.35" fill="none" stroke="#263b6b" stroke-width="1.1"/>
<circle cx="410.3" cy="214" r="2.35" fill="none" stroke="#263b6b" stroke-width="1.1"/>
<circle cx="402.2" cy="218.6" r="2.35" fill="none" stroke="#263b6b" stroke-width="1.1"/>
<circle cx="408.6" cy="218" r="2.35" fill="none" stroke="#263b6b" stroke-width="1.1"/>
<circle cx="396" cy="209.5" r="2.35" fill="none" stroke="#263b6b" stroke-width="1.1"/>
<circle cx="400.5" cy="209.5" r="2.35" fill="none" stroke="#263b6b" stroke-width="1.1"/>
<circle cx="405" cy="209.5" r="2.35" fill="none" stroke="#263b6b" stroke-width="1.1"/>
<circle cx="409.5" cy="209.5" r="2.35" fill="none" stroke="#263b6b" stroke-width="1.1"/>
<circle cx="393.5" cy="212.5" r="2.35" fill="none" stroke="#263b6b" stroke-width="1.1"/>
<circle cx="398" cy="212.5" r="2.35" fill="none" stroke="#263b6b" stroke-width="1.1"/>
<circle cx="402.5" cy="212.5" r="2.35" fill="none" stroke="#263b6b" stroke-width="1.1"/>
<circle cx="407" cy="212.5" r="2.35" fill="none" stroke="#263b6b" stroke-width="1.1"/>
<circle cx="411.5" cy="212.5" r="2.35" fill="none" stroke="#263b6b" stroke-width="1.1"/>
<polygon points="436.1,169.57 440.9,169.57 438.5,173.7" fill="none" stroke="#7cb545" stroke-width="1.05" stroke-linejoin="miter"/>
<polygon points="429,177.57 433.8,177.57 431.4,181.7" fill="none" stroke="#7cb545" stroke-width="1.05" stroke-linejoin="miter"/>
<polygon points="442.7,178.97 447.5,178.97 445.1,183.1" fill="none" stroke="#7cb545" stroke-width="1.05" stroke-linejoin="miter"/>
<polygon points="436.1,181.77 440.9,181.77 438.5,185.9" fill="none" stroke="#7cb545" stroke-width="1.05" stroke-linejoin="miter"/>
<polygon points="442.7,186.47 447.5,186.47 445.1,190.6" fill="none" stroke="#7cb545" stroke-width="1.05" stroke-linejoin="miter"/>
<polygon points="429,189.77 433.8,189.77 431.4,193.9" fill="none" stroke="#7cb545" stroke-width="1.05" stroke-linejoin="miter"/>
<polygon points="436.1,190.27 440.9,190.27 438.5,194.4" fill="none" stroke="#7cb545" stroke-width="1.05" stroke-linejoin="miter"/>
<polygon points="429,194.97 433.8,194.97 431.4,199.1" fill="none" stroke="#7cb545" stroke-width="1.05" stroke-linejoin="miter"/>
<polygon points="432.8,194.57 437.6,194.57 435.2,198.7" fill="none" stroke="#7cb545" stroke-width="1.05" stroke-linejoin="miter"/>
<polygon points="439.4,194.57 444.2,194.57 441.8,198.7" fill="none" stroke="#7cb545" stroke-width="1.05" stroke-linejoin="miter"/>
<polygon points="446.4,193.57 451.2,193.57 448.8,197.7" fill="none" stroke="#7cb545" stroke-width="1.05" stroke-linejoin="miter"/>
<polygon points="435.6,198.77 440.4,198.77 438,202.9" fill="none" stroke="#7cb545" stroke-width="1.05" stroke-linejoin="miter"/>
<polygon points="442.7,197.37 447.5,197.37 445.1,201.5" fill="none" stroke="#7cb545" stroke-width="1.05" stroke-linejoin="miter"/>
<polygon points="434.7,201.57 439.5,201.57 437.1,205.7" fill="none" stroke="#7cb545" stroke-width="1.05" stroke-linejoin="miter"/>
<polygon points="444.6,201.57 449.4,201.57 447,205.7" fill="none" stroke="#7cb545" stroke-width="1.05" stroke-linejoin="miter"/>
<polygon points="426.2,207.27 431,207.27 428.6,211.4" fill="none" stroke="#7cb545" stroke-width="1.05" stroke-linejoin="miter"/>
<polygon points="430,208.17 434.8,208.17 432.4,212.3" fill="none" stroke="#7cb545" stroke-width="1.05" stroke-linejoin="miter"/>
<polygon points="433.7,207.67 438.5,207.67 436.1,211.8" fill="none" stroke="#7cb545" stroke-width="1.05" stroke-linejoin="miter"/>
<polygon points="437.5,208.17 442.3,208.17 439.9,212.3" fill="none" stroke="#7cb545" stroke-width="1.05" stroke-linejoin="miter"/>
<polygon points="441.7,207.67 446.5,207.67 444.1,211.8" fill="none" stroke="#7cb545" stroke-width="1.05" stroke-linejoin="miter"/>
<polygon points="446,208.17 450.8,208.17 448.4,212.3" fill="none" stroke="#7cb545" stroke-width="1.05" stroke-linejoin="miter"/>
<polygon points="428.1,211.47 432.9,211.47 430.5,215.6" fill="none" stroke="#7cb545" stroke-width="1.05" stroke-linejoin="miter"/>
<polygon points="432.3,210.97 437.1,210.97 434.7,215.1" fill="none" stroke="#7cb545" stroke-width="1.05" stroke-linejoin="miter"/>
<polygon points="438.4,210.97 443.2,210.97 440.8,215.1" fill="none" stroke="#7cb545" stroke-width="1.05" stroke-linejoin="miter"/>
<polygon points="444.1,211.47 448.9,211.47 446.5,215.6" fill="none" stroke="#7cb545" stroke-width="1.05" stroke-linejoin="miter"/>
<polygon points="436.1,214.77 440.9,214.77 438.5,218.9" fill="none" stroke="#7cb545" stroke-width="1.05" stroke-linejoin="miter"/>
<polygon points="442.7,214.27 447.5,214.27 445.1,218.4" fill="none" stroke="#7cb545" stroke-width="1.05" stroke-linejoin="miter"/>
<polygon points="426.1,208.87 430.9,208.87 428.5,213" fill="none" stroke="#7cb545" stroke-width="1.05" stroke-linejoin="miter"/>
<polygon points="430.6,208.87 435.4,208.87 433,213" fill="none" stroke="#7cb545" stroke-width="1.05" stroke-linejoin="miter"/>
<polygon points="435.1,208.87 439.9,208.87 437.5,213" fill="none" stroke="#7cb545" stroke-width="1.05" stroke-linejoin="miter"/>
<polygon points="439.6,208.87 444.4,208.87 442,213" fill="none" stroke="#7cb545" stroke-width="1.05" stroke-linejoin="miter"/>
<polygon points="444.1,208.87 448.9,208.87 446.5,213" fill="none" stroke="#7cb545" stroke-width="1.05" stroke-linejoin="miter"/>
<polygon points="428.6,211.97 433.4,211.97 431,216.1" fill="none" stroke="#7cb545" stroke-width="1.05" stroke-linejoin="miter"/>
<polygon points="433.1,211.97 437.9,211.97 435.5,216.1" fill="none" stroke="#7cb545" stroke-width="1.05" stroke-linejoin="miter"/>
<polygon points="437.6,211.97 442.4,211.97 440,216.1" fill="none" stroke="#7cb545" stroke-width="1.05" stroke-linejoin="miter"/>
<polygon points="442.1,211.97 446.9,211.97 444.5,216.1" fill="none" stroke="#7cb545" stroke-width="1.05" stroke-linejoin="miter"/>
<polygon points="431.1,215.07 435.9,215.07 433.5,219.2" fill="none" stroke="#7cb545" stroke-width="1.05" stroke-linejoin="miter"/>
<polygon points="435.6,215.07 440.4,215.07 438,219.2" fill="none" stroke="#7cb545" stroke-width="1.05" stroke-linejoin="miter"/>
<polygon points="440.1,215.07 444.9,215.07 442.5,219.2" fill="none" stroke="#7cb545" stroke-width="1.05" stroke-linejoin="miter"/>
<polygon points="444.6,215.07 449.4,215.07 447,219.2" fill="none" stroke="#7cb545" stroke-width="1.05" stroke-linejoin="miter"/>
<line x1="390.3" y1="207.6" x2="414.3" y2="207.6" stroke="#000" stroke-width="1.6"/>
<line x1="426.7" y1="207.8" x2="450.7" y2="207.8" stroke="#000" stroke-width="1.6"/>
<line x1="45.6" y1="276.6" x2="45.6" y2="346.1" stroke="#111" stroke-width="1.5"/>
<line x1="42.4" y1="279.4" x2="45.6" y2="279.4" stroke="#111" stroke-width="1.5"/>
<text x="39.4" y="282.3" font-size="8.3" text-anchor="end" font-weight="400" fill="#222">140</text>
<line x1="42.4" y1="298.5" x2="45.6" y2="298.5" stroke="#111" stroke-width="1.5"/>
<line x1="42.4" y1="317.4" x2="45.6" y2="317.4" stroke="#111" stroke-width="1.5"/>
<line x1="42.4" y1="336.3" x2="45.6" y2="336.3" stroke="#111" stroke-width="1.5"/>
<line x1="42.4" y1="345.5" x2="45.6" y2="345.5" stroke="#111" stroke-width="1.5"/>
<text x="39.4" y="348.4" font-size="8.3" text-anchor="end" font-weight="400" fill="#222">70</text>
<line x1="45.6" y1="352.7" x2="45.6" y2="359.6" stroke="#111" stroke-width="1.5"/>
<line x1="42.4" y1="352.7" x2="46.6" y2="352.7" stroke="#111" stroke-width="1.5"/>
<line x1="42.4" y1="359.6" x2="45.6" y2="359.6" stroke="#111" stroke-width="1.5"/>
<text x="39.4" y="362.5" font-size="8.3" text-anchor="end" font-weight="400" fill="#222">0</text>
<line x1="45" y1="359.6" x2="120" y2="359.6" stroke="#111" stroke-width="1.5"/>
<line x1="64.2" y1="359.6" x2="64.2" y2="362.6" stroke="#111" stroke-width="1.5"/>
<line x1="101.8" y1="359.6" x2="101.8" y2="362.6" stroke="#111" stroke-width="1.5"/>
<text x="18.7" y="317.6" font-size="9" text-anchor="middle" font-weight="400" fill="#222" transform="rotate(-90 18.7 317.6)">SSC MFI (*10<tspan font-size="5.5" dy="-3">3</tspan><tspan dy="3">)</tspan></text>
<circle cx="60.7" cy="300.3" r="2.35" fill="none" stroke="#263b6b" stroke-width="1.1"/>
<circle cx="70.9" cy="302.6" r="2.35" fill="none" stroke="#263b6b" stroke-width="1.1"/>
<circle cx="57.4" cy="305" r="2.35" fill="none" stroke="#263b6b" stroke-width="1.1"/>
<circle cx="63.9" cy="307.2" r="2.35" fill="none" stroke="#263b6b" stroke-width="1.1"/>
<circle cx="57.7" cy="312.7" r="2.35" fill="none" stroke="#263b6b" stroke-width="1.1"/>
<circle cx="61.2" cy="311.6" r="2.35" fill="none" stroke="#263b6b" stroke-width="1.1"/>
<circle cx="67.4" cy="312.3" r="2.35" fill="none" stroke="#263b6b" stroke-width="1.1"/>
<circle cx="74.3" cy="311.3" r="2.35" fill="none" stroke="#263b6b" stroke-width="1.1"/>
<circle cx="70.9" cy="315.8" r="2.35" fill="none" stroke="#263b6b" stroke-width="1.1"/>
<circle cx="64.3" cy="317.4" r="2.35" fill="none" stroke="#263b6b" stroke-width="1.1"/>
<circle cx="57.7" cy="324.4" r="2.35" fill="none" stroke="#263b6b" stroke-width="1.1"/>
<circle cx="61.2" cy="322" r="2.35" fill="none" stroke="#263b6b" stroke-width="1.1"/>
<circle cx="67.4" cy="322" r="2.35" fill="none" stroke="#263b6b" stroke-width="1.1"/>
<circle cx="64.3" cy="325.5" r="2.35" fill="none" stroke="#263b6b" stroke-width="1.1"/>
<circle cx="70.9" cy="324.1" r="2.35" fill="none" stroke="#263b6b" stroke-width="1.1"/>
<circle cx="57.7" cy="331.3" r="2.35" fill="none" stroke="#263b6b" stroke-width="1.1"/>
<circle cx="61.2" cy="328.2" r="2.35" fill="none" stroke="#263b6b" stroke-width="1.1"/>
<circle cx="67.4" cy="331.3" r="2.35" fill="none" stroke="#263b6b" stroke-width="1.1"/>
<circle cx="64.3" cy="334.1" r="2.35" fill="none" stroke="#263b6b" stroke-width="1.1"/>
<circle cx="70.9" cy="332.4" r="2.35" fill="none" stroke="#263b6b" stroke-width="1.1"/>
<polygon points="99.3,302.97 104.1,302.97 101.7,307.1" fill="none" stroke="#7cb545" stroke-width="1.05" stroke-linejoin="miter"/>
<polygon points="92.7,309.57 97.5,309.57 95.1,313.7" fill="none" stroke="#7cb545" stroke-width="1.05" stroke-linejoin="miter"/>
<polygon points="99.3,310.97 104.1,310.97 101.7,315.1" fill="none" stroke="#7cb545" stroke-width="1.05" stroke-linejoin="miter"/>
<polygon points="89.6,314.37 94.4,314.37 92,318.5" fill="none" stroke="#7cb545" stroke-width="1.05" stroke-linejoin="miter"/>
<polygon points="95.5,315.47 100.3,315.47 97.9,319.6" fill="none" stroke="#7cb545" stroke-width="1.05" stroke-linejoin="miter"/>
<polygon points="102.4,316.57 107.2,316.57 104.8,320.7" fill="none" stroke="#7cb545" stroke-width="1.05" stroke-linejoin="miter"/>
<polygon points="109.3,314.37 114.1,314.37 111.7,318.5" fill="none" stroke="#7cb545" stroke-width="1.05" stroke-linejoin="miter"/>
<polygon points="92.7,318.87 97.5,318.87 95.1,323" fill="none" stroke="#7cb545" stroke-width="1.05" stroke-linejoin="miter"/>
<polygon points="99.6,320.27 104.4,320.27 102,324.4" fill="none" stroke="#7cb545" stroke-width="1.05" stroke-linejoin="miter"/>
<polygon points="105.8,319.57 110.6,319.57 108.2,323.7" fill="none" stroke="#7cb545" stroke-width="1.05" stroke-linejoin="miter"/>
<polygon points="96.2,325.77 101,325.77 98.6,329.9" fill="none" stroke="#7cb545" stroke-width="1.05" stroke-linejoin="miter"/>
<polygon points="102.4,325.17 107.2,325.17 104.8,329.3" fill="none" stroke="#7cb545" stroke-width="1.05" stroke-linejoin="miter"/>
<polygon points="92.7,329.57 97.5,329.57 95.1,333.7" fill="none" stroke="#7cb545" stroke-width="1.05" stroke-linejoin="miter"/>
<polygon points="99.3,329.97 104.1,329.97 101.7,334.1" fill="none" stroke="#7cb545" stroke-width="1.05" stroke-linejoin="miter"/>
<polygon points="105.8,329.57 110.6,329.57 108.2,333.7" fill="none" stroke="#7cb545" stroke-width="1.05" stroke-linejoin="miter"/>
<polygon points="96.2,333.47 101,333.47 98.6,337.6" fill="none" stroke="#7cb545" stroke-width="1.05" stroke-linejoin="miter"/>
<polygon points="102.4,334.17 107.2,334.17 104.8,338.3" fill="none" stroke="#7cb545" stroke-width="1.05" stroke-linejoin="miter"/>
<polygon points="92.7,334.87 97.5,334.87 95.1,339" fill="none" stroke="#7cb545" stroke-width="1.05" stroke-linejoin="miter"/>
<polygon points="105.8,337.27 110.6,337.27 108.2,341.4" fill="none" stroke="#7cb545" stroke-width="1.05" stroke-linejoin="miter"/>
<polygon points="99.3,340.37 104.1,340.37 101.7,344.5" fill="none" stroke="#7cb545" stroke-width="1.05" stroke-linejoin="miter"/>
<line x1="52.2" y1="319.9" x2="76.4" y2="319.9" stroke="#000" stroke-width="1.6"/>
<line x1="89.3" y1="325.2" x2="114.2" y2="325.2" stroke="#000" stroke-width="1.6"/>
<line x1="63.4" y1="289.5" x2="102.5" y2="289.5" stroke="#111" stroke-width="1.35"/>
<circle cx="82.95" cy="284.5" r="1.25" fill="#111"/>
<line x1="174.5" y1="276.6" x2="174.5" y2="346.1" stroke="#111" stroke-width="1.5"/>
<line x1="171.3" y1="279.4" x2="174.5" y2="279.4" stroke="#111" stroke-width="1.5"/>
<text x="168.3" y="282.3" font-size="8.3" text-anchor="end" font-weight="400" fill="#222">160</text>
<line x1="171.3" y1="295.9" x2="174.5" y2="295.9" stroke="#111" stroke-width="1.5"/>
<line x1="171.3" y1="312.4" x2="174.5" y2="312.4" stroke="#111" stroke-width="1.5"/>
<line x1="171.3" y1="328.9" x2="174.5" y2="328.9" stroke="#111" stroke-width="1.5"/>
<line x1="171.3" y1="345.5" x2="174.5" y2="345.5" stroke="#111" stroke-width="1.5"/>
<text x="168.3" y="348.4" font-size="8.3" text-anchor="end" font-weight="400" fill="#222">80</text>
<line x1="174.5" y1="352.7" x2="174.5" y2="359.6" stroke="#111" stroke-width="1.5"/>
<line x1="171.3" y1="352.7" x2="175.5" y2="352.7" stroke="#111" stroke-width="1.5"/>
<line x1="171.3" y1="359.6" x2="174.5" y2="359.6" stroke="#111" stroke-width="1.5"/>
<text x="168.3" y="362.5" font-size="8.3" text-anchor="end" font-weight="400" fill="#222">0</text>
<line x1="173.9" y1="359.6" x2="248.8" y2="359.6" stroke="#111" stroke-width="1.5"/>
<line x1="192.5" y1="359.6" x2="192.5" y2="362.6" stroke="#111" stroke-width="1.5"/>
<line x1="230.5" y1="359.6" x2="230.5" y2="362.6" stroke="#111" stroke-width="1.5"/>
<text x="148.7" y="317.6" font-size="9" text-anchor="middle" font-weight="400" fill="#222" transform="rotate(-90 148.7 317.6)">FSC MFI (*10<tspan font-size="5.5" dy="-3">3</tspan><tspan dy="3">)</tspan></text>
<circle cx="186" cy="307.7" r="2.35" fill="none" stroke="#263b6b" stroke-width="1.1"/>
<circle cx="199.8" cy="308.8" r="2.35" fill="none" stroke="#263b6b" stroke-width="1.1"/>
<circle cx="192.9" cy="310.4" r="2.35" fill="none" stroke="#263b6b" stroke-width="1.1"/>
<circle cx="190.5" cy="312.9" r="2.35" fill="none" stroke="#263b6b" stroke-width="1.1"/>
<circle cx="196.1" cy="315" r="2.35" fill="none" stroke="#263b6b" stroke-width="1.1"/>
<circle cx="186" cy="317.8" r="2.35" fill="none" stroke="#263b6b" stroke-width="1.1"/>
<circle cx="189.6" cy="316.4" r="2.35" fill="none" stroke="#263b6b" stroke-width="1.1"/>
<circle cx="199.8" cy="317.4" r="2.35" fill="none" stroke="#263b6b" stroke-width="1.1"/>
<circle cx="192.9" cy="321" r="2.35" fill="none" stroke="#263b6b" stroke-width="1.1"/>
<circle cx="189.6" cy="325.4" r="2.35" fill="none" stroke="#263b6b" stroke-width="1.1"/>
<circle cx="186" cy="328.4" r="2.35" fill="none" stroke="#263b6b" stroke-width="1.1"/>
<circle cx="196.8" cy="328.2" r="2.35" fill="none" stroke="#263b6b" stroke-width="1.1"/>
<circle cx="200.2" cy="328.4" r="2.35" fill="none" stroke="#263b6b" stroke-width="1.1"/>
<circle cx="192.9" cy="332.3" r="2.35" fill="none" stroke="#263b6b" stroke-width="1.1"/>
<circle cx="189.6" cy="334.4" r="2.35" fill="none" stroke="#263b6b" stroke-width="1.1"/>
<circle cx="199.8" cy="336.5" r="2.35" fill="none" stroke="#263b6b" stroke-width="1.1"/>
<circle cx="186" cy="339.9" r="2.35" fill="none" stroke="#263b6b" stroke-width="1.1"/>
<circle cx="192.9" cy="340.9" r="2.35" fill="none" stroke="#263b6b" stroke-width="1.1"/>
<circle cx="192.9" cy="352.4" r="2.35" fill="none" stroke="#263b6b" stroke-width="1.1"/>
<circle cx="199.8" cy="352.4" r="2.35" fill="none" stroke="#263b6b" stroke-width="1.1"/>
<polygon points="227.9,291.77 232.7,291.77 230.3,295.9" fill="none" stroke="#7cb545" stroke-width="1.05" stroke-linejoin="miter"/>
<polygon points="224.8,294.87 229.6,294.87 227.2,299" fill="none" stroke="#7cb545" stroke-width="1.05" stroke-linejoin="miter"/>
<polygon points="230.4,294.57 235.2,294.57 232.8,298.7" fill="none" stroke="#7cb545" stroke-width="1.05" stroke-linejoin="miter"/>
<polygon points="221.8,297.37 226.6,297.37 224.2,301.5" fill="none" stroke="#7cb545" stroke-width="1.05" stroke-linejoin="miter"/>
<polygon points="227.9,297.37 232.7,297.37 230.3,301.5" fill="none" stroke="#7cb545" stroke-width="1.05" stroke-linejoin="miter"/>
<polygon points="233.2,296.67 238,296.67 235.6,300.8" fill="none" stroke="#7cb545" stroke-width="1.05" stroke-linejoin="miter"/>
<polygon points="220.7,300.17 225.5,300.17 223.1,304.3" fill="none" stroke="#7cb545" stroke-width="1.05" stroke-linejoin="miter"/>
<polygon points="235.2,300.17 240,300.17 237.6,304.3" fill="none" stroke="#7cb545" stroke-width="1.05" stroke-linejoin="miter"/>
<polygon points="224.8,301.27 229.6,301.27 227.2,305.4" fill="none" stroke="#7cb545" stroke-width="1.05" stroke-linejoin="miter"/>
<polygon points="228.3,301.77 233.1,301.77 230.7,305.9" fill="none" stroke="#7cb545" stroke-width="1.05" stroke-linejoin="miter"/>
<polygon points="231.8,301.77 236.6,301.77 234.2,305.9" fill="none" stroke="#7cb545" stroke-width="1.05" stroke-linejoin="miter"/>
<polygon points="220.7,308.47 225.5,308.47 223.1,312.6" fill="none" stroke="#7cb545" stroke-width="1.05" stroke-linejoin="miter"/>
<polygon points="227.9,311.17 232.7,311.17 230.3,315.3" fill="none" stroke="#7cb545" stroke-width="1.05" stroke-linejoin="miter"/>
<polygon points="234.5,309.17 239.3,309.17 236.9,313.3" fill="none" stroke="#7cb545" stroke-width="1.05" stroke-linejoin="miter"/>
<polygon points="231.8,305.67 236.6,305.67 234.2,309.8" fill="none" stroke="#7cb545" stroke-width="1.05" stroke-linejoin="miter"/>
<polygon points="235.2,313.27 240,313.27 237.6,317.4" fill="none" stroke="#7cb545" stroke-width="1.05" stroke-linejoin="miter"/>
<polygon points="220.7,318.77 225.5,318.77 223.1,322.9" fill="none" stroke="#7cb545" stroke-width="1.05" stroke-linejoin="miter"/>
<polygon points="227.9,319.47 232.7,319.47 230.3,323.6" fill="none" stroke="#7cb545" stroke-width="1.05" stroke-linejoin="miter"/>
<polygon points="235.2,320.87 240,320.87 237.6,325" fill="none" stroke="#7cb545" stroke-width="1.05" stroke-linejoin="miter"/>
<polygon points="227.9,327.57 232.7,327.57 230.3,331.7" fill="none" stroke="#7cb545" stroke-width="1.05" stroke-linejoin="miter"/>
<line x1="180.2" y1="326.8" x2="205.4" y2="326.8" stroke="#000" stroke-width="1.6"/>
<line x1="218.2" y1="308.5" x2="243.2" y2="308.5" stroke="#000" stroke-width="1.6"/>
<line x1="191.25" y1="286.5" x2="232" y2="286.5" stroke="#111" stroke-width="1.35"/>
<circle cx="207.72" cy="281.5" r="1.25" fill="#111"/>
<circle cx="211.62" cy="281.5" r="1.25" fill="#111"/>
<circle cx="215.53" cy="281.5" r="1.25" fill="#111"/>
<line x1="38.8" y1="423" x2="38.8" y2="507" stroke="#111" stroke-width="1.5"/>
<line x1="35.6" y1="506.4" x2="38.8" y2="506.4" stroke="#111" stroke-width="1.5"/>
<text x="33" y="509.3" font-size="8.3" text-anchor="end" font-weight="400" fill="#222">0.0</text>
<line x1="35.6" y1="486.25" x2="38.8" y2="486.25" stroke="#111" stroke-width="1.5"/>
<text x="33" y="489.15" font-size="8.3" text-anchor="end" font-weight="400" fill="#222">0.5</text>
<line x1="35.6" y1="466.1" x2="38.8" y2="466.1" stroke="#111" stroke-width="1.5"/>
<text x="33" y="469" font-size="8.3" text-anchor="end" font-weight="400" fill="#222">1.0</text>
<line x1="35.6" y1="445.95" x2="38.8" y2="445.95" stroke="#111" stroke-width="1.5"/>
<text x="33" y="448.85" font-size="8.3" text-anchor="end" font-weight="400" fill="#222">1.5</text>
<line x1="35.6" y1="425.8" x2="38.8" y2="425.8" stroke="#111" stroke-width="1.5"/>
<text x="33" y="428.7" font-size="8.3" text-anchor="end" font-weight="400" fill="#222">2.0</text>
<line x1="38.2" y1="506.4" x2="114.5" y2="506.4" stroke="#111" stroke-width="1.5"/>
<line x1="57.5" y1="506.4" x2="57.5" y2="509.4" stroke="#111" stroke-width="1.5"/>
<line x1="95.5" y1="506.4" x2="95.5" y2="509.4" stroke="#111" stroke-width="1.5"/>
<text x="17.2" y="465" font-size="9" text-anchor="middle" font-weight="400" fill="#222" transform="rotate(-90 17.2 465)">ARG1 mRNA (MNE)</text>
<rect x="55.85" y="470.85" width="4.3" height="4.3" fill="none" stroke="#901d40" stroke-width="1.1"/>
<rect x="55.35" y="477.35" width="4.3" height="4.3" fill="none" stroke="#901d40" stroke-width="1.1"/>
<rect x="62.35" y="484.1" width="4.3" height="4.3" fill="none" stroke="#901d40" stroke-width="1.1"/>
<rect x="49.1" y="488.6" width="4.3" height="4.3" fill="none" stroke="#901d40" stroke-width="1.1"/>
<rect x="55.85" y="491.6" width="4.3" height="4.3" fill="none" stroke="#901d40" stroke-width="1.1"/>
<rect x="55.85" y="499.85" width="4.3" height="4.3" fill="none" stroke="#901d40" stroke-width="1.1"/>
<rect x="62.35" y="497.85" width="4.3" height="4.3" fill="none" stroke="#901d40" stroke-width="1.1"/>
<circle cx="89.5" cy="442.5" r="2.35" fill="none" stroke="#263b6b" stroke-width="1.1"/>
<circle cx="95.75" cy="442.5" r="2.35" fill="none" stroke="#263b6b" stroke-width="1.1"/>
<circle cx="95.75" cy="465" r="2.35" fill="none" stroke="#263b6b" stroke-width="1.1"/>
<circle cx="89.5" cy="470" r="2.35" fill="none" stroke="#263b6b" stroke-width="1.1"/>
<circle cx="95.75" cy="475" r="2.35" fill="none" stroke="#263b6b" stroke-width="1.1"/>
<circle cx="95.75" cy="490" r="2.35" fill="none" stroke="#263b6b" stroke-width="1.1"/>
<circle cx="102" cy="485.5" r="2.35" fill="none" stroke="#263b6b" stroke-width="1.1"/>
<line x1="45.7" y1="490.6" x2="70" y2="490.6" stroke="#000" stroke-width="1.6"/>
<line x1="88.75" y1="470.8" x2="107.5" y2="470.8" stroke="#000" stroke-width="1.6"/>
<line x1="53" y1="427.5" x2="95.75" y2="427.5" stroke="#111" stroke-width="1.35"/>
<circle cx="74.38" cy="422.5" r="1.25" fill="#111"/>
<line x1="168" y1="423" x2="168" y2="507" stroke="#111" stroke-width="1.5"/>
<line x1="164.8" y1="506.4" x2="168" y2="506.4" stroke="#111" stroke-width="1.5"/>
<text x="162.2" y="509.3" font-size="8.3" text-anchor="end" font-weight="400" fill="#222">0</text>
<line x1="164.8" y1="479.53" x2="168" y2="479.53" stroke="#111" stroke-width="1.5"/>
<text x="162.2" y="482.43" font-size="8.3" text-anchor="end" font-weight="400" fill="#222">50</text>
<line x1="164.8" y1="452.67" x2="168" y2="452.67" stroke="#111" stroke-width="1.5"/>
<text x="162.2" y="455.57" font-size="8.3" text-anchor="end" font-weight="400" fill="#222">100</text>
<line x1="164.8" y1="425.8" x2="168" y2="425.8" stroke="#111" stroke-width="1.5"/>
<text x="162.2" y="428.7" font-size="8.3" text-anchor="end" font-weight="400" fill="#222">150</text>
<line x1="167.4" y1="506.4" x2="243.8" y2="506.4" stroke="#111" stroke-width="1.5"/>
<line x1="187" y1="506.4" x2="187" y2="509.4" stroke="#111" stroke-width="1.5"/>
<line x1="225" y1="506.4" x2="225" y2="509.4" stroke="#111" stroke-width="1.5"/>
<text x="144.3" y="464.5" font-size="9" text-anchor="middle" font-weight="400" fill="#222" transform="rotate(-90 144.3 464.5)">Arginase activity (UL<tspan font-size="5.5" dy="-3">-1</tspan><tspan dy="3">)</tspan></text>
<rect x="184.85" y="441.6" width="4.3" height="4.3" fill="none" stroke="#901d40" stroke-width="1.1"/>
<rect x="184.85" y="451.1" width="4.3" height="4.3" fill="none" stroke="#901d40" stroke-width="1.1"/>
<rect x="178.35" y="460.35" width="4.3" height="4.3" fill="none" stroke="#901d40" stroke-width="1.1"/>
<rect x="184.85" y="466.6" width="4.3" height="4.3" fill="none" stroke="#901d40" stroke-width="1.1"/>
<rect x="184.85" y="476.6" width="4.3" height="4.3" fill="none" stroke="#901d40" stroke-width="1.1"/>
<rect x="184.85" y="483.35" width="4.3" height="4.3" fill="none" stroke="#901d40" stroke-width="1.1"/>
<rect x="184.85" y="495.35" width="4.3" height="4.3" fill="none" stroke="#901d40" stroke-width="1.1"/>
<circle cx="224.5" cy="473" r="2.35" fill="none" stroke="#263b6b" stroke-width="1.1"/>
<circle cx="231.25" cy="473" r="2.35" fill="none" stroke="#263b6b" stroke-width="1.1"/>
<circle cx="218" cy="492" r="2.35" fill="none" stroke="#263b6b" stroke-width="1.1"/>
<circle cx="224.5" cy="492" r="2.35" fill="none" stroke="#263b6b" stroke-width="1.1"/>
<circle cx="224.5" cy="498.75" r="2.35" fill="none" stroke="#263b6b" stroke-width="1.1"/>
<circle cx="231.25" cy="498.75" r="2.35" fill="none" stroke="#263b6b" stroke-width="1.1"/>
<line x1="174.5" y1="468.75" x2="198.75" y2="468.75" stroke="#000" stroke-width="1.6"/>
<line x1="212.5" y1="491.25" x2="237.5" y2="491.25" stroke="#000" stroke-width="1.6"/>
<line x1="186.25" y1="428.5" x2="223.75" y2="428.5" stroke="#111" stroke-width="1.35"/>
<circle cx="205" cy="423.5" r="1.25" fill="#111"/>
<line x1="295.2" y1="422.4" x2="295.2" y2="507" stroke="#111" stroke-width="1.5"/>
<line x1="292" y1="506.4" x2="295.2" y2="506.4" stroke="#111" stroke-width="1.5"/>
<text x="289.4" y="509.3" font-size="8.3" text-anchor="end" font-weight="400" fill="#222">0</text>
<line x1="292" y1="465.8" x2="295.2" y2="465.8" stroke="#111" stroke-width="1.5"/>
<text x="289.4" y="468.7" font-size="8.3" text-anchor="end" font-weight="400" fill="#222">2</text>
<line x1="292" y1="425.2" x2="295.2" y2="425.2" stroke="#111" stroke-width="1.5"/>
<text x="289.4" y="428.1" font-size="8.3" text-anchor="end" font-weight="400" fill="#222">4</text>
<line x1="294.6" y1="506.4" x2="371.8" y2="506.4" stroke="#111" stroke-width="1.5"/>
<line x1="314.6" y1="506.4" x2="314.6" y2="509.4" stroke="#111" stroke-width="1.5"/>
<line x1="353.7" y1="506.4" x2="353.7" y2="509.4" stroke="#111" stroke-width="1.5"/>
<text x="279" y="465.1" font-size="9" text-anchor="middle" font-weight="400" fill="#222" transform="rotate(-90 279 465.1)">Arginase activity (UL<tspan font-size="5.5" dy="-3">-1</tspan><tspan dy="3">)</tspan></text>
<rect x="303.05" y="489.25" width="4.3" height="4.3" fill="none" stroke="#901d40" stroke-width="1.1"/>
<rect x="315.65" y="489.25" width="4.3" height="4.3" fill="none" stroke="#901d40" stroke-width="1.1"/>
<rect x="322.75" y="488.65" width="4.3" height="4.3" fill="none" stroke="#901d40" stroke-width="1.1"/>
<rect x="306.35" y="492.35" width="4.3" height="4.3" fill="none" stroke="#901d40" stroke-width="1.1"/>
<rect x="310.35" y="492.65" width="4.3" height="4.3" fill="none" stroke="#901d40" stroke-width="1.1"/>
<rect x="314.35" y="492.35" width="4.3" height="4.3" fill="none" stroke="#901d40" stroke-width="1.1"/>
<rect x="318.35" y="492.65" width="4.3" height="4.3" fill="none" stroke="#901d40" stroke-width="1.1"/>
<rect x="306.15" y="498.75" width="4.3" height="4.3" fill="none" stroke="#901d40" stroke-width="1.1"/>
<rect x="310.35" y="498.35" width="4.3" height="4.3" fill="none" stroke="#901d40" stroke-width="1.1"/>
<rect x="312.65" y="502.15" width="4.3" height="4.3" fill="none" stroke="#901d40" stroke-width="1.1"/>
<rect x="319.05" y="500.95" width="4.3" height="4.3" fill="none" stroke="#901d40" stroke-width="1.1"/>
<circle cx="353.7" cy="448" r="2.35" fill="none" stroke="#263b6b" stroke-width="1.1"/>
<circle cx="353.7" cy="471" r="2.35" fill="none" stroke="#263b6b" stroke-width="1.1"/>
<circle cx="353.7" cy="481.8" r="2.35" fill="none" stroke="#263b6b" stroke-width="1.1"/>
<circle cx="359.7" cy="481.4" r="2.35" fill="none" stroke="#263b6b" stroke-width="1.1"/>
<circle cx="347.1" cy="487.5" r="2.35" fill="none" stroke="#263b6b" stroke-width="1.1"/>
<circle cx="359.7" cy="486.1" r="2.35" fill="none" stroke="#263b6b" stroke-width="1.1"/>
<circle cx="353.7" cy="489.7" r="2.35" fill="none" stroke="#263b6b" stroke-width="1.1"/>
<circle cx="356.6" cy="492.7" r="2.35" fill="none" stroke="#263b6b" stroke-width="1.1"/>
<circle cx="347.1" cy="495" r="2.35" fill="none" stroke="#263b6b" stroke-width="1.1"/>
<circle cx="359.7" cy="495.5" r="2.35" fill="none" stroke="#263b6b" stroke-width="1.1"/>
<circle cx="353.7" cy="498.7" r="2.35" fill="none" stroke="#263b6b" stroke-width="1.1"/>
<line x1="303" y1="497" x2="327.2" y2="497" stroke="#000" stroke-width="1.6"/>
<line x1="341" y1="484.9" x2="366.2" y2="484.9" stroke="#000" stroke-width="1.6"/>
<line x1="309.9" y1="437.5" x2="352" y2="437.5" stroke="#111" stroke-width="1.35"/>
<circle cx="330.95" cy="432.5" r="1.25" fill="#111"/>
<line x1="433.4" y1="422.8" x2="433.4" y2="507" stroke="#111" stroke-width="1.5"/>
<line x1="430.2" y1="506.4" x2="433.4" y2="506.4" stroke="#111" stroke-width="1.5"/>
<text x="427.6" y="509.3" font-size="8.3" text-anchor="end" font-weight="400" fill="#222">0</text>
<line x1="430.2" y1="490.24" x2="433.4" y2="490.24" stroke="#111" stroke-width="1.5"/>
<text x="427.6" y="493.14" font-size="8.3" text-anchor="end" font-weight="400" fill="#222">20</text>
<line x1="430.2" y1="474.08" x2="433.4" y2="474.08" stroke="#111" stroke-width="1.5"/>
<text x="427.6" y="476.98" font-size="8.3" text-anchor="end" font-weight="400" fill="#222">40</text>
<line x1="430.2" y1="457.92" x2="433.4" y2="457.92" stroke="#111" stroke-width="1.5"/>
<text x="427.6" y="460.82" font-size="8.3" text-anchor="end" font-weight="400" fill="#222">60</text>
<line x1="430.2" y1="441.76" x2="433.4" y2="441.76" stroke="#111" stroke-width="1.5"/>
<text x="427.6" y="444.66" font-size="8.3" text-anchor="end" font-weight="400" fill="#222">80</text>
<line x1="430.2" y1="425.6" x2="433.4" y2="425.6" stroke="#111" stroke-width="1.5"/>
<text x="427.6" y="428.5" font-size="8.3" text-anchor="end" font-weight="400" fill="#222">100</text>
<line x1="432.8" y1="506.4" x2="512.7" y2="506.4" stroke="#111" stroke-width="1.5"/>
<line x1="452.7" y1="506.4" x2="452.7" y2="509.4" stroke="#111" stroke-width="1.5"/>
<line x1="492.5" y1="506.4" x2="492.5" y2="509.4" stroke="#111" stroke-width="1.5"/>
<text x="409.2" y="464.1" font-size="9" text-anchor="middle" font-weight="400" fill="#222" transform="rotate(-90 409.2 464.1)">Arginase activity (UL<tspan font-size="5.5" dy="-3">-1</tspan><tspan dy="3">)</tspan></text>
<rect x="441.85" y="481.85" width="4.3" height="4.3" fill="none" stroke="#901d40" stroke-width="1.1"/>
<rect x="446.35" y="481.35" width="4.3" height="4.3" fill="none" stroke="#901d40" stroke-width="1.1"/>
<rect x="450.85" y="482.35" width="4.3" height="4.3" fill="none" stroke="#901d40" stroke-width="1.1"/>
<rect x="455.35" y="481.35" width="4.3" height="4.3" fill="none" stroke="#901d40" stroke-width="1.1"/>
<rect x="460.15" y="482.35" width="4.3" height="4.3" fill="none" stroke="#901d40" stroke-width="1.1"/>
<rect x="443.85" y="485.05" width="4.3" height="4.3" fill="none" stroke="#901d40" stroke-width="1.1"/>
<rect x="448.85" y="485.35" width="4.3" height="4.3" fill="none" stroke="#901d40" stroke-width="1.1"/>
<rect x="453.85" y="484.85" width="4.3" height="4.3" fill="none" stroke="#901d40" stroke-width="1.1"/>
<rect x="458.85" y="485.45" width="4.3" height="4.3" fill="none" stroke="#901d40" stroke-width="1.1"/>
<rect x="444.75" y="496.85" width="4.3" height="4.3" fill="none" stroke="#901d40" stroke-width="1.1"/>
<rect x="451.75" y="497.85" width="4.3" height="4.3" fill="none" stroke="#901d40" stroke-width="1.1"/>
<rect x="454.85" y="495.95" width="4.3" height="4.3" fill="none" stroke="#901d40" stroke-width="1.1"/>
<rect x="459.05" y="497.25" width="4.3" height="4.3" fill="none" stroke="#901d40" stroke-width="1.1"/>
<rect x="451.35" y="487.35" width="4.3" height="4.3" fill="none" stroke="#901d40" stroke-width="1.1"/>
<rect x="497.2" y="448" width="4.6" height="4.6" fill="#2d4774"/>
<rect x="490.7" y="454.7" width="4.6" height="4.6" fill="#2d4774"/>
<rect x="493.9" y="461.1" width="4.6" height="4.6" fill="#2d4774"/>
<rect x="487" y="463.5" width="4.6" height="4.6" fill="#2d4774"/>
<rect x="497.2" y="464.4" width="4.6" height="4.6" fill="#2d4774"/>
<rect x="484.4" y="467.5" width="4.6" height="4.6" fill="#2d4774"/>
<rect x="490.7" y="467.5" width="4.6" height="4.6" fill="#2d4774"/>
<rect x="497.2" y="471.2" width="4.6" height="4.6" fill="#2d4774"/>
<rect x="484.4" y="478.5" width="4.6" height="4.6" fill="#2d4774"/>
<rect x="490.7" y="475.4" width="4.6" height="4.6" fill="#2d4774"/>
<rect x="497.2" y="478.5" width="4.6" height="4.6" fill="#2d4774"/>
<rect x="490.7" y="483.4" width="4.6" height="4.6" fill="#2d4774"/>
<rect x="490.7" y="495.5" width="4.6" height="4.6" fill="#2d4774"/>
<rect x="487.6" y="466.2" width="4.6" height="4.6" fill="#2d4774"/>
<line x1="441" y1="486.6" x2="466.1" y2="486.6" stroke="#000" stroke-width="1.6"/>
<line x1="479.8" y1="470.2" x2="506.3" y2="470.2" stroke="#000" stroke-width="1.6"/>
<line x1="451.5" y1="426.5" x2="492.6" y2="426.5" stroke="#111" stroke-width="1.35"/>
<circle cx="470.1" cy="421.5" r="1.25" fill="#111"/>
<circle cx="474" cy="421.5" r="1.25" fill="#111"/>
<text x="16.9" y="611.6" font-size="9" text-anchor="middle" font-weight="400" fill="#222" transform="rotate(-90 16.9 611.6)">Apoptotic cells (%)</text>
<line x1="42.5" y1="568.7" x2="42.5" y2="655.6" stroke="#111" stroke-width="1.5"/>
<line x1="39.3" y1="655" x2="42.5" y2="655" stroke="#111" stroke-width="1.5"/>
<text x="36.7" y="657.9" font-size="8.3" text-anchor="end" font-weight="400" fill="#222">0</text>
<line x1="39.3" y1="638.3" x2="42.5" y2="638.3" stroke="#111" stroke-width="1.5"/>
<text x="36.7" y="641.2" font-size="8.3" text-anchor="end" font-weight="400" fill="#222">20</text>
<line x1="39.3" y1="621.6" x2="42.5" y2="621.6" stroke="#111" stroke-width="1.5"/>
<text x="36.7" y="624.5" font-size="8.3" text-anchor="end" font-weight="400" fill="#222">40</text>
<line x1="39.3" y1="604.9" x2="42.5" y2="604.9" stroke="#111" stroke-width="1.5"/>
<text x="36.7" y="607.8" font-size="8.3" text-anchor="end" font-weight="400" fill="#222">60</text>
<line x1="39.3" y1="588.2" x2="42.5" y2="588.2" stroke="#111" stroke-width="1.5"/>
<text x="36.7" y="591.1" font-size="8.3" text-anchor="end" font-weight="400" fill="#222">80</text>
<line x1="39.3" y1="571.5" x2="42.5" y2="571.5" stroke="#111" stroke-width="1.5"/>
<text x="36.7" y="574.4" font-size="8.3" text-anchor="end" font-weight="400" fill="#222">100</text>
<line x1="41.9" y1="655" x2="217" y2="655" stroke="#111" stroke-width="1.5"/>
<line x1="63.75" y1="655" x2="63.75" y2="658" stroke="#111" stroke-width="1.5"/>
<line x1="107.5" y1="655" x2="107.5" y2="658" stroke="#111" stroke-width="1.5"/>
<line x1="151.25" y1="655" x2="151.25" y2="658" stroke="#111" stroke-width="1.5"/>
<line x1="195" y1="655" x2="195" y2="658" stroke="#111" stroke-width="1.5"/>
<text x="63.75" y="669" font-size="8.3" text-anchor="middle" font-weight="400" fill="#222">24</text>
<text x="107.5" y="669" font-size="8.3" text-anchor="middle" font-weight="400" fill="#222">48</text>
<text x="151.25" y="669" font-size="8.3" text-anchor="middle" font-weight="400" fill="#222">72</text>
<text x="195" y="669" font-size="8.3" text-anchor="middle" font-weight="400" fill="#222">96</text>
<text x="212" y="669" font-size="8.3" text-anchor="middle" font-weight="400" fill="#222">h</text>
<line x1="86.2" y1="569.8" x2="86.2" y2="667" stroke="#222" stroke-width="1.3" stroke-dasharray="4 3.5"/>
<line x1="130" y1="569.8" x2="130" y2="667" stroke="#222" stroke-width="1.3" stroke-dasharray="4 3.5"/>
<line x1="173.7" y1="569.8" x2="173.7" y2="667" stroke="#222" stroke-width="1.3" stroke-dasharray="4 3.5"/>
<rect x="181" y="569.3" width="12" height="9.9" rx="3" fill="#a3173c"/>
<rect x="197.5" y="569.5" width="12" height="7" rx="3" fill="#1f2f5c"/>
<rect x="54.05" y="569.55" width="4.4" height="4.4" fill="none" stroke="#901d40" stroke-width="1.1"/>
<rect x="50.3" y="588.3" width="4.4" height="4.4" fill="none" stroke="#901d40" stroke-width="1.1"/>
<rect x="54.05" y="591.55" width="4.4" height="4.4" fill="none" stroke="#901d40" stroke-width="1.1"/>
<rect x="57.3" y="597.8" width="4.4" height="4.4" fill="none" stroke="#901d40" stroke-width="1.1"/>
<rect x="53.3" y="604.55" width="4.4" height="4.4" fill="none" stroke="#901d40" stroke-width="1.1"/>
<rect x="50.3" y="607.8" width="4.4" height="4.4" fill="none" stroke="#901d40" stroke-width="1.1"/>
<rect x="53.3" y="613.3" width="4.4" height="4.4" fill="none" stroke="#901d40" stroke-width="1.1"/>
<rect x="57.3" y="613.3" width="4.4" height="4.4" fill="none" stroke="#901d40" stroke-width="1.1"/>
<rect x="97.8" y="574.8" width="4.4" height="4.4" fill="none" stroke="#901d40" stroke-width="1.1"/>
<rect x="97.8" y="582.3" width="4.4" height="4.4" fill="none" stroke="#901d40" stroke-width="1.1"/>
<rect x="97.8" y="591.55" width="4.4" height="4.4" fill="none" stroke="#901d40" stroke-width="1.1"/>
<rect x="97.8" y="609.8" width="4.4" height="4.4" fill="none" stroke="#901d40" stroke-width="1.1"/>
<rect x="137.8" y="572.3" width="4.4" height="4.4" fill="none" stroke="#901d40" stroke-width="1.1"/>
<rect x="144.05" y="570.8" width="4.4" height="4.4" fill="none" stroke="#901d40" stroke-width="1.1"/>
<rect x="141.55" y="574.8" width="4.4" height="4.4" fill="none" stroke="#901d40" stroke-width="1.1"/>
<rect x="141.55" y="581.55" width="4.4" height="4.4" fill="none" stroke="#901d40" stroke-width="1.1"/>
<rect x="181.3" y="571.3" width="4.4" height="4.4" fill="none" stroke="#901d40" stroke-width="1.1"/>
<rect x="184.8" y="571.8" width="4.4" height="4.4" fill="none" stroke="#901d40" stroke-width="1.1"/>
<rect x="188.3" y="571.3" width="4.4" height="4.4" fill="none" stroke="#901d40" stroke-width="1.1"/>
<rect x="182.8" y="574.3" width="4.4" height="4.4" fill="none" stroke="#901d40" stroke-width="1.1"/>
<rect x="186.8" y="574.3" width="4.4" height="4.4" fill="none" stroke="#901d40" stroke-width="1.1"/>
<rect x="189.3" y="572.8" width="4.4" height="4.4" fill="none" stroke="#901d40" stroke-width="1.1"/>
<rect x="181.8" y="572.8" width="4.4" height="4.4" fill="none" stroke="#901d40" stroke-width="1.1"/>
<rect x="185.8" y="570.6" width="4.4" height="4.4" fill="none" stroke="#901d40" stroke-width="1.1"/>
<rect x="184.8" y="569.3" width="4.4" height="4.4" fill="none" stroke="#901d40" stroke-width="1.1"/>
<rect x="181.9" y="575.6" width="1.8" height="1.6" fill="#f3c4d2"/>
<rect x="186.1" y="575.6" width="1.8" height="1.6" fill="#f3c4d2"/>
<rect x="190.3" y="575.6" width="1.8" height="1.6" fill="#f3c4d2"/>
<circle cx="72.5" cy="571.75" r="2.2" fill="none" stroke="#263b6b" stroke-width="1.1"/>
<circle cx="72.5" cy="599.25" r="2.2" fill="none" stroke="#263b6b" stroke-width="1.1"/>
<circle cx="69.5" cy="608.75" r="2.2" fill="none" stroke="#263b6b" stroke-width="1.1"/>
<circle cx="72.5" cy="612.5" r="2.2" fill="none" stroke="#263b6b" stroke-width="1.1"/>
<circle cx="75.5" cy="615" r="2.2" fill="none" stroke="#263b6b" stroke-width="1.1"/>
<circle cx="72.5" cy="620.75" r="2.2" fill="none" stroke="#263b6b" stroke-width="1.1"/>
<circle cx="72.5" cy="629.25" r="2.2" fill="none" stroke="#263b6b" stroke-width="1.1"/>
<circle cx="75.5" cy="637.5" r="2.2" fill="none" stroke="#263b6b" stroke-width="1.1"/>
<circle cx="72.5" cy="641.25" r="2.2" fill="none" stroke="#263b6b" stroke-width="1.1"/>
<circle cx="115.5" cy="596.25" r="2.2" fill="none" stroke="#263b6b" stroke-width="1.1"/>
<circle cx="112.5" cy="610" r="2.2" fill="none" stroke="#263b6b" stroke-width="1.1"/>
<circle cx="115.5" cy="614.5" r="2.2" fill="none" stroke="#263b6b" stroke-width="1.1"/>
<circle cx="119.5" cy="613" r="2.2" fill="none" stroke="#263b6b" stroke-width="1.1"/>
<circle cx="159.5" cy="575.5" r="2.2" fill="none" stroke="#263b6b" stroke-width="1.1"/>
<circle cx="157" cy="579.5" r="2.2" fill="none" stroke="#263b6b" stroke-width="1.1"/>
<circle cx="159.5" cy="585" r="2.2" fill="none" stroke="#263b6b" stroke-width="1.1"/>
<circle cx="159.5" cy="591.25" r="2.2" fill="none" stroke="#263b6b" stroke-width="1.1"/>
<circle cx="199.8" cy="575.6" r="2.2" fill="none" stroke="#263b6b" stroke-width="1.1"/>
<circle cx="203.5" cy="576" r="2.2" fill="none" stroke="#263b6b" stroke-width="1.1"/>
<circle cx="207.2" cy="575.6" r="2.2" fill="none" stroke="#263b6b" stroke-width="1.1"/>
<circle cx="203.75" cy="597" r="2.2" fill="none" stroke="#263b6b" stroke-width="1.1"/>
<line x1="51.25" y1="600" x2="61.25" y2="600" stroke="#000" stroke-width="1.6"/>
<line x1="67" y1="615" x2="78" y2="615" stroke="#000" stroke-width="1.6"/>
<line x1="94.5" y1="588.75" x2="105.5" y2="588.75" stroke="#000" stroke-width="1.6"/>
<line x1="110" y1="611.75" x2="120.5" y2="611.75" stroke="#000" stroke-width="1.6"/>
<line x1="138" y1="575.5" x2="148" y2="575.5" stroke="#000" stroke-width="1.6"/>
<line x1="154.5" y1="582" x2="165" y2="582" stroke="#000" stroke-width="1.6"/>
<line x1="181.5" y1="573.4" x2="193.5" y2="573.4" stroke="#000" stroke-width="1.6"/>
<line x1="198" y1="573.6" x2="210" y2="573.6" stroke="#000" stroke-width="1.6"/>
<text x="130" y="682" font-size="8.8" text-anchor="middle" font-weight="400" fill="#222">- T lymphocytes</text>
<line x1="253.3" y1="568.7" x2="253.3" y2="655.6" stroke="#111" stroke-width="1.5"/>
<line x1="250.1" y1="655" x2="253.3" y2="655" stroke="#111" stroke-width="1.5"/>
<text x="247.5" y="657.9" font-size="8.3" text-anchor="end" font-weight="400" fill="#222">0</text>
<line x1="250.1" y1="638.3" x2="253.3" y2="638.3" stroke="#111" stroke-width="1.5"/>
<text x="247.5" y="641.2" font-size="8.3" text-anchor="end" font-weight="400" fill="#222">20</text>
<line x1="250.1" y1="621.6" x2="253.3" y2="621.6" stroke="#111" stroke-width="1.5"/>
<text x="247.5" y="624.5" font-size="8.3" text-anchor="end" font-weight="400" fill="#222">40</text>
<line x1="250.1" y1="604.9" x2="253.3" y2="604.9" stroke="#111" stroke-width="1.5"/>
<text x="247.5" y="607.8" font-size="8.3" text-anchor="end" font-weight="400" fill="#222">60</text>
<line x1="250.1" y1="588.2" x2="253.3" y2="588.2" stroke="#111" stroke-width="1.5"/>
<text x="247.5" y="591.1" font-size="8.3" text-anchor="end" font-weight="400" fill="#222">80</text>
<line x1="250.1" y1="571.5" x2="253.3" y2="571.5" stroke="#111" stroke-width="1.5"/>
<text x="247.5" y="574.4" font-size="8.3" text-anchor="end" font-weight="400" fill="#222">100</text>
<line x1="252.7" y1="655" x2="427.5" y2="655" stroke="#111" stroke-width="1.5"/>
<line x1="275" y1="655" x2="275" y2="658" stroke="#111" stroke-width="1.5"/>
<line x1="318.75" y1="655" x2="318.75" y2="658" stroke="#111" stroke-width="1.5"/>
<line x1="362.5" y1="655" x2="362.5" y2="658" stroke="#111" stroke-width="1.5"/>
<line x1="406.25" y1="655" x2="406.25" y2="658" stroke="#111" stroke-width="1.5"/>
<text x="275" y="669" font-size="8.3" text-anchor="middle" font-weight="400" fill="#222">24</text>
<text x="318.75" y="669" font-size="8.3" text-anchor="middle" font-weight="400" fill="#222">48</text>
<text x="362.5" y="669" font-size="8.3" text-anchor="middle" font-weight="400" fill="#222">72</text>
<text x="406.25" y="669" font-size="8.3" text-anchor="middle" font-weight="400" fill="#222">96</text>
<text x="422.5" y="669" font-size="8.3" text-anchor="middle" font-weight="400" fill="#222">h</text>
<line x1="297.5" y1="569.8" x2="297.5" y2="667" stroke="#222" stroke-width="1.3" stroke-dasharray="4 3.5"/>
<line x1="341.2" y1="569.8" x2="341.2" y2="667" stroke="#222" stroke-width="1.3" stroke-dasharray="4 3.5"/>
<line x1="385" y1="569.8" x2="385" y2="667" stroke="#222" stroke-width="1.3" stroke-dasharray="4 3.5"/>
<rect x="392.2" y="569.8" width="11.8" height="8.4" rx="3" fill="#a3173c"/>
<rect x="408.5" y="569.8" width="11.7" height="6.7" rx="3" fill="#1f2f5c"/>
<rect x="264.8" y="570.8" width="4.4" height="4.4" fill="none" stroke="#901d40" stroke-width="1.1"/>
<rect x="264.8" y="592.05" width="4.4" height="4.4" fill="none" stroke="#901d40" stroke-width="1.1"/>
<rect x="261.55" y="602.05" width="4.4" height="4.4" fill="none" stroke="#901d40" stroke-width="1.1"/>
<rect x="264.8" y="604.55" width="4.4" height="4.4" fill="none" stroke="#901d40" stroke-width="1.1"/>
<rect x="264.8" y="612.3" width="4.4" height="4.4" fill="none" stroke="#901d40" stroke-width="1.1"/>
<rect x="261.55" y="619.05" width="4.4" height="4.4" fill="none" stroke="#901d40" stroke-width="1.1"/>
<rect x="267.8" y="619.05" width="4.4" height="4.4" fill="none" stroke="#901d40" stroke-width="1.1"/>
<rect x="264.8" y="624.8" width="4.4" height="4.4" fill="none" stroke="#901d40" stroke-width="1.1"/>
<rect x="264.8" y="645.8" width="4.4" height="4.4" fill="none" stroke="#901d40" stroke-width="1.1"/>
<rect x="308.3" y="570.8" width="4.4" height="4.4" fill="none" stroke="#901d40" stroke-width="1.1"/>
<rect x="308.3" y="588.3" width="4.4" height="4.4" fill="none" stroke="#901d40" stroke-width="1.1"/>
<rect x="308.3" y="603.55" width="4.4" height="4.4" fill="none" stroke="#901d40" stroke-width="1.1"/>
<rect x="308.3" y="610.8" width="4.4" height="4.4" fill="none" stroke="#901d40" stroke-width="1.1"/>
<rect x="352.05" y="569.55" width="4.4" height="4.4" fill="none" stroke="#901d40" stroke-width="1.1"/>
<rect x="352.05" y="578.3" width="4.4" height="4.4" fill="none" stroke="#901d40" stroke-width="1.1"/>
<rect x="355.3" y="582.3" width="4.4" height="4.4" fill="none" stroke="#901d40" stroke-width="1.1"/>
<rect x="352.05" y="585.3" width="4.4" height="4.4" fill="none" stroke="#901d40" stroke-width="1.1"/>
<rect x="392.3" y="571.3" width="4.4" height="4.4" fill="none" stroke="#901d40" stroke-width="1.1"/>
<rect x="395.8" y="571.8" width="4.4" height="4.4" fill="none" stroke="#901d40" stroke-width="1.1"/>
<rect x="399.3" y="571.3" width="4.4" height="4.4" fill="none" stroke="#901d40" stroke-width="1.1"/>
<rect x="393.8" y="574.3" width="4.4" height="4.4" fill="none" stroke="#901d40" stroke-width="1.1"/>
<rect x="397.8" y="574.3" width="4.4" height="4.4" fill="none" stroke="#901d40" stroke-width="1.1"/>
<rect x="395.8" y="582.3" width="4.4" height="4.4" fill="none" stroke="#901d40" stroke-width="1.1"/>
<rect x="392.8" y="572.8" width="4.4" height="4.4" fill="none" stroke="#901d40" stroke-width="1.1"/>
<rect x="398.8" y="573.3" width="4.4" height="4.4" fill="none" stroke="#901d40" stroke-width="1.1"/>
<rect x="395.8" y="569.3" width="4.4" height="4.4" fill="none" stroke="#901d40" stroke-width="1.1"/>
<rect x="393.1" y="574.6" width="1.8" height="1.6" fill="#f3c4d2"/>
<rect x="397.2" y="574.6" width="1.8" height="1.6" fill="#f3c4d2"/>
<rect x="401.3" y="574.6" width="1.8" height="1.6" fill="#f3c4d2"/>
<circle cx="283.25" cy="573.75" r="2.2" fill="none" stroke="#263b6b" stroke-width="1.1"/>
<circle cx="283.25" cy="618.25" r="2.2" fill="none" stroke="#263b6b" stroke-width="1.1"/>
<circle cx="287" cy="618.25" r="2.2" fill="none" stroke="#263b6b" stroke-width="1.1"/>
<circle cx="280" cy="627" r="2.2" fill="none" stroke="#263b6b" stroke-width="1.1"/>
<circle cx="283.25" cy="631.75" r="2.2" fill="none" stroke="#263b6b" stroke-width="1.1"/>
<circle cx="287" cy="641.25" r="2.2" fill="none" stroke="#263b6b" stroke-width="1.1"/>
<circle cx="283.25" cy="645" r="2.2" fill="none" stroke="#263b6b" stroke-width="1.1"/>
<circle cx="285" cy="628" r="2.2" fill="none" stroke="#263b6b" stroke-width="1.1"/>
<circle cx="327" cy="594.25" r="2.2" fill="none" stroke="#263b6b" stroke-width="1.1"/>
<circle cx="323.75" cy="622.5" r="2.2" fill="none" stroke="#263b6b" stroke-width="1.1"/>
<circle cx="329.5" cy="623.75" r="2.2" fill="none" stroke="#263b6b" stroke-width="1.1"/>
<circle cx="327" cy="627.5" r="2.2" fill="none" stroke="#263b6b" stroke-width="1.1"/>
<circle cx="370.5" cy="575.5" r="2.2" fill="none" stroke="#263b6b" stroke-width="1.1"/>
<circle cx="370.5" cy="581.75" r="2.2" fill="none" stroke="#263b6b" stroke-width="1.1"/>
<circle cx="370.5" cy="598.75" r="2.2" fill="none" stroke="#263b6b" stroke-width="1.1"/>
<circle cx="370.5" cy="608" r="2.2" fill="none" stroke="#263b6b" stroke-width="1.1"/>
<circle cx="410.8" cy="576" r="2.2" fill="none" stroke="#263b6b" stroke-width="1.1"/>
<circle cx="414.3" cy="576.4" r="2.2" fill="none" stroke="#263b6b" stroke-width="1.1"/>
<circle cx="417.8" cy="576" r="2.2" fill="none" stroke="#263b6b" stroke-width="1.1"/>
<circle cx="410.6" cy="583.2" r="2.2" fill="none" stroke="#263b6b" stroke-width="1.1"/>
<circle cx="414.1" cy="584.5" r="2.2" fill="none" stroke="#263b6b" stroke-width="1.1"/>
<circle cx="417.6" cy="583.2" r="2.2" fill="none" stroke="#263b6b" stroke-width="1.1"/>
<line x1="261.25" y1="614.5" x2="272.5" y2="614.5" stroke="#000" stroke-width="1.6"/>
<line x1="277.5" y1="628" x2="289.5" y2="628" stroke="#000" stroke-width="1.6"/>
<line x1="305" y1="598" x2="316.25" y2="598" stroke="#000" stroke-width="1.6"/>
<line x1="321.25" y1="623" x2="332.5" y2="623" stroke="#000" stroke-width="1.6"/>
<line x1="348.75" y1="582.5" x2="359.5" y2="582.5" stroke="#000" stroke-width="1.6"/>
<line x1="365" y1="590" x2="376.25" y2="590" stroke="#000" stroke-width="1.6"/>
<line x1="392" y1="574" x2="404" y2="574" stroke="#000" stroke-width="1.6"/>
<line x1="408" y1="574" x2="420" y2="574" stroke="#000" stroke-width="1.6"/>
<text x="340.3" y="682" font-size="8.8" text-anchor="middle" font-weight="400" fill="#222">+ T lymphocytes</text>
</svg>
</body></html>
